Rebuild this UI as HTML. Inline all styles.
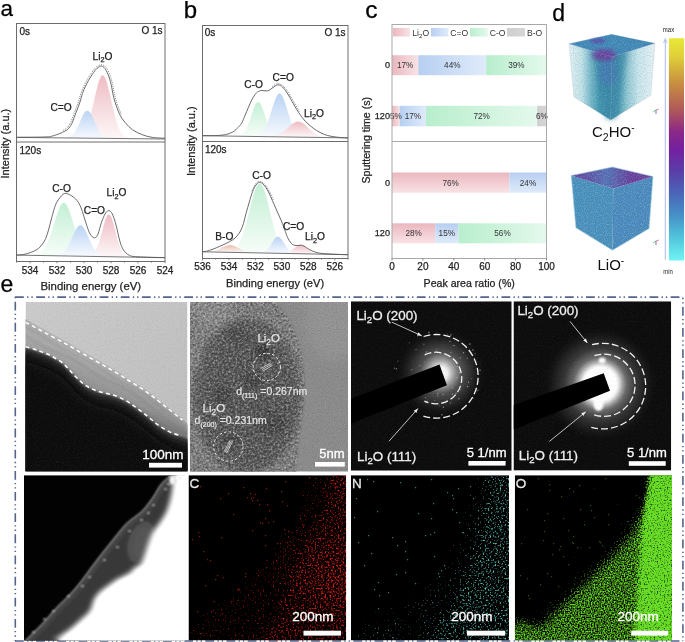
<!DOCTYPE html>
<html><head><meta charset="utf-8"><style>
html,body{margin:0;padding:0;background:#fff;}
body{width:685px;height:642px;overflow:hidden;position:relative;font-family:"Liberation Sans", sans-serif;}
body>svg{position:absolute;left:0;top:0;will-change:transform;}
</style></head><body>
<svg class="tw" width="685" height="642" viewBox="0 0 685 642" font-family='"Liberation Sans", sans-serif'>
<defs><linearGradient id="g1" gradientUnits="userSpaceOnUse" x1="0" y1="75.3" x2="0" y2="138.3"><stop offset="0" stop-color="#eebcc3"/><stop offset="1" stop-color="#fdf7f8"/></linearGradient><linearGradient id="g2" gradientUnits="userSpaceOnUse" x1="0" y1="110.7" x2="0" y2="138.2"><stop offset="0" stop-color="#bad3f4"/><stop offset="1" stop-color="#f7fafe"/></linearGradient><linearGradient id="g3" gradientUnits="userSpaceOnUse" x1="0" y1="202.6" x2="0" y2="255.9"><stop offset="0" stop-color="#c3efd4"/><stop offset="1" stop-color="#f7fdf9"/></linearGradient><linearGradient id="g4" gradientUnits="userSpaceOnUse" x1="0" y1="214.4" x2="0" y2="256.7"><stop offset="0" stop-color="#eebcc3"/><stop offset="1" stop-color="#fdf7f8"/></linearGradient><linearGradient id="g5" gradientUnits="userSpaceOnUse" x1="0" y1="225.2" x2="0" y2="256.2"><stop offset="0" stop-color="#bad3f4"/><stop offset="1" stop-color="#f7fafe"/></linearGradient><linearGradient id="g6" gradientUnits="userSpaceOnUse" x1="0" y1="101.9" x2="0" y2="136.5"><stop offset="0" stop-color="#c3efd4"/><stop offset="1" stop-color="#f7fdf9"/></linearGradient><linearGradient id="g7" gradientUnits="userSpaceOnUse" x1="0" y1="93.6" x2="0" y2="136.9"><stop offset="0" stop-color="#bad3f4"/><stop offset="1" stop-color="#f7fafe"/></linearGradient><linearGradient id="g8" gradientUnits="userSpaceOnUse" x1="0" y1="121.5" x2="0" y2="137.1"><stop offset="0" stop-color="#eebcc3"/><stop offset="1" stop-color="#fdf7f8"/></linearGradient><linearGradient id="g9" gradientUnits="userSpaceOnUse" x1="0" y1="183.4" x2="0" y2="252.9"><stop offset="0" stop-color="#c3efd4"/><stop offset="1" stop-color="#f7fdf9"/></linearGradient><linearGradient id="g10" gradientUnits="userSpaceOnUse" x1="0" y1="245.1" x2="0" y2="253.8"><stop offset="0" stop-color="#eebcc3"/><stop offset="1" stop-color="#fdf7f8"/></linearGradient><linearGradient id="g11" gradientUnits="userSpaceOnUse" x1="0" y1="245.1" x2="0" y2="252.4"><stop offset="0" stop-color="#e8bfae"/><stop offset="1" stop-color="#fdf8f6"/></linearGradient><linearGradient id="g12" gradientUnits="userSpaceOnUse" x1="0" y1="236.8" x2="0" y2="253.3"><stop offset="0" stop-color="#bad3f4"/><stop offset="1" stop-color="#f7fafe"/></linearGradient><linearGradient id="g13" gradientUnits="userSpaceOnUse" x1="392" y1="0" x2="418.3" y2="0"><stop offset="0" stop-color="#eab7be"/><stop offset="1" stop-color="#f8e3e6"/></linearGradient><linearGradient id="g14" gradientUnits="userSpaceOnUse" x1="418.3" y1="0" x2="486.2" y2="0"><stop offset="0" stop-color="#b7cff2"/><stop offset="1" stop-color="#e0ebfa"/></linearGradient><linearGradient id="g15" gradientUnits="userSpaceOnUse" x1="486.2" y1="0" x2="546.5" y2="0"><stop offset="0" stop-color="#b8eecd"/><stop offset="1" stop-color="#e4f9ec"/></linearGradient><linearGradient id="g16" gradientUnits="userSpaceOnUse" x1="392" y1="0" x2="399.7" y2="0"><stop offset="0" stop-color="#eab7be"/><stop offset="1" stop-color="#f8e3e6"/></linearGradient><linearGradient id="g17" gradientUnits="userSpaceOnUse" x1="399.7" y1="0" x2="426" y2="0"><stop offset="0" stop-color="#b7cff2"/><stop offset="1" stop-color="#e0ebfa"/></linearGradient><linearGradient id="g18" gradientUnits="userSpaceOnUse" x1="426" y1="0" x2="537.2" y2="0"><stop offset="0" stop-color="#b8eecd"/><stop offset="1" stop-color="#e4f9ec"/></linearGradient><linearGradient id="g19" gradientUnits="userSpaceOnUse" x1="537.2" y1="0" x2="546.5" y2="0"><stop offset="0" stop-color="#cfcfcf"/><stop offset="1" stop-color="#d6d6d6"/></linearGradient><linearGradient id="g20" gradientUnits="userSpaceOnUse" x1="0" y1="172.5" x2="0" y2="192.8"><stop offset="0" stop-color="#eab7be"/><stop offset="1" stop-color="#f8e3e6"/></linearGradient><linearGradient id="g21" gradientUnits="userSpaceOnUse" x1="0" y1="172.5" x2="0" y2="192.8"><stop offset="0" stop-color="#b7cff2"/><stop offset="1" stop-color="#e0ebfa"/></linearGradient><linearGradient id="g22" gradientUnits="userSpaceOnUse" x1="0" y1="223.3" x2="0" y2="243.3"><stop offset="0" stop-color="#eab7be"/><stop offset="1" stop-color="#f8e3e6"/></linearGradient><linearGradient id="g23" gradientUnits="userSpaceOnUse" x1="0" y1="223.3" x2="0" y2="243.3"><stop offset="0" stop-color="#b7cff2"/><stop offset="1" stop-color="#e0ebfa"/></linearGradient><linearGradient id="g24" gradientUnits="userSpaceOnUse" x1="458.4" y1="0" x2="546.5" y2="0"><stop offset="0" stop-color="#b8eecd"/><stop offset="1" stop-color="#e4f9ec"/></linearGradient><linearGradient id="g25" gradientUnits="userSpaceOnUse" x1="392.8" y1="0" x2="410" y2="0"><stop offset="0" stop-color="#eab7be"/><stop offset="1" stop-color="#f8e3e6"/></linearGradient><linearGradient id="g26" gradientUnits="userSpaceOnUse" x1="431" y1="0" x2="448.3" y2="0"><stop offset="0" stop-color="#b7cff2"/><stop offset="1" stop-color="#e0ebfa"/></linearGradient><linearGradient id="g27" gradientUnits="userSpaceOnUse" x1="470" y1="0" x2="487.7" y2="0"><stop offset="0" stop-color="#b8eecd"/><stop offset="1" stop-color="#e4f9ec"/></linearGradient><linearGradient id="g28" gradientUnits="userSpaceOnUse" x1="507" y1="0" x2="525" y2="0"><stop offset="0" stop-color="#cfcfcf"/><stop offset="1" stop-color="#d6d6d6"/></linearGradient><filter id="grain" x="0" y="0" width="1" height="1" color-interpolation-filters="sRGB">
<feTurbulence type="fractalNoise" baseFrequency="0.75" numOctaves="2" seed="7" result="n"/>
<feColorMatrix in="n" type="matrix" values="0 0 0 0 1 0 0 0 0 1 0 0 0 0 1 3 0 0 0 -1.5" result="w"/>
<feColorMatrix in="n" type="matrix" values="0 0 0 0 0 0 0 0 0 0 0 0 0 0 0 -3 0 0 0 1.5" result="k"/>
<feMerge><feMergeNode in="w"/><feMergeNode in="k"/></feMerge>
</filter><filter id="grain2" x="0" y="0" width="1" height="1" color-interpolation-filters="sRGB">
<feTurbulence type="fractalNoise" baseFrequency="0.45" numOctaves="3" seed="11" result="n"/>
<feColorMatrix in="n" type="matrix" values="0 0 0 0 1 0 0 0 0 1 0 0 0 0 1 3 0 0 0 -1.5" result="w"/>
<feColorMatrix in="n" type="matrix" values="0 0 0 0 0 0 0 0 0 0 0 0 0 0 0 -3 0 0 0 1.5" result="k"/>
<feMerge><feMergeNode in="w"/><feMergeNode in="k"/></feMerge>
</filter><filter id="bl1" x="-20%" y="-20%" width="140%" height="140%"><feGaussianBlur stdDeviation="1"/></filter><filter id="bl2" x="-20%" y="-20%" width="140%" height="140%"><feGaussianBlur stdDeviation="2.5"/></filter><filter id="bl3" x="-20%" y="-20%" width="140%" height="140%"><feGaussianBlur stdDeviation="5"/></filter><linearGradient id="t1bg" x1="0" y1="0" x2="1" y2="1"><stop offset="0" stop-color="#cbcbcb"/><stop offset="1" stop-color="#bdbdbd"/></linearGradient><linearGradient id="t1band" gradientUnits="userSpaceOnUse" x1="100" y1="365" x2="88" y2="395"><stop offset="0" stop-color="#aaaaaa"/><stop offset="0.7" stop-color="#939393"/><stop offset="1" stop-color="#7a7a7a"/></linearGradient><linearGradient id="t1dark" gradientUnits="userSpaceOnUse" x1="50" y1="470" x2="160" y2="400"><stop offset="0" stop-color="#0c0c0c"/><stop offset="0.5" stop-color="#121212"/><stop offset="1" stop-color="#1e1e1e"/></linearGradient><clipPath id="t2clip"><path d="M270,298C270.8,298.7 271.8,298.7 274.8,302C277.8,305.3 284,311.3 288,317.9C292,324.5 296,333.3 298.6,341.7C301.2,350.1 302.9,359.4 303.9,368.2C304.9,377 304.9,385.9 304.5,394.7C304.1,403.5 302.3,412.8 301.3,421.2C300.3,429.6 299.5,436.5 298.6,445C297.7,453.5 296.4,466.8 296,472C295.6,477.2 296,475.3 296,476 L185,476 L185,298 Z"/></clipPath><radialGradient id="glow3"><stop offset="0" stop-color="#fff"/><stop offset="0.14" stop-color="#f0f0f0"/><stop offset="0.28" stop-color="#a0a0a0"/><stop offset="0.45" stop-color="#505050"/><stop offset="0.7" stop-color="#262626"/><stop offset="1" stop-color="#0d0d0d" stop-opacity="0"/></radialGradient><radialGradient id="glow4"><stop offset="0" stop-color="#fff"/><stop offset="0.28" stop-color="#fcfcfc"/><stop offset="0.36" stop-color="#b8b8b8"/><stop offset="0.46" stop-color="#686868"/><stop offset="0.62" stop-color="#363636"/><stop offset="0.8" stop-color="#1c1c1c"/><stop offset="1" stop-color="#0d0d0d" stop-opacity="0"/></radialGradient><filter id="bl6" x="-30%" y="-30%" width="160%" height="160%"><feGaussianBlur stdDeviation="6"/></filter><filter id="bl9" x="-30%" y="-30%" width="160%" height="160%"><feGaussianBlur stdDeviation="9"/></filter><filter id="edsC" x="0" y="0" width="1" height="1" color-interpolation-filters="sRGB">
<feTurbulence type="fractalNoise" baseFrequency="0.6" numOctaves="1" seed="4" result="n"/>
<feColorMatrix in="n" type="matrix" values="1 0 0 0 0 1 0 0 0 0 1 0 0 0 0 0 0 0 0 1" result="n2"/>
<feComposite in="SourceGraphic" in2="n2" operator="arithmetic" k1="0" k2="1" k3="1" k4="-1.0" result="s"/>
<feColorMatrix in="s" type="matrix" values="0 0 0 0 0.843 0 0 0 0 0.118 0 0 0 0 0.063 3.8 0 0 0 0"/>
<feGaussianBlur stdDeviation="0.35"/>
</filter><radialGradient id="dCr" gradientUnits="userSpaceOnUse" cx="340" cy="580" r="80"><stop offset="0" stop-color="#8e8e8e"/><stop offset="0.5" stop-color="#808080"/><stop offset="1" stop-color="#6e6e6e" stop-opacity="0"/></radialGradient><filter id="edsN" x="0" y="0" width="1" height="1" color-interpolation-filters="sRGB">
<feTurbulence type="fractalNoise" baseFrequency="0.6" numOctaves="1" seed="9" result="n"/>
<feColorMatrix in="n" type="matrix" values="1 0 0 0 0 1 0 0 0 0 1 0 0 0 0 0 0 0 0 1" result="n2"/>
<feComposite in="SourceGraphic" in2="n2" operator="arithmetic" k1="0" k2="1" k3="1" k4="-1.0" result="s"/>
<feColorMatrix in="s" type="matrix" values="0 0 0 0 0.373 0 0 0 0 0.843 0 0 0 0 0.804 3.9 0 0 0 0"/>
<feGaussianBlur stdDeviation="0.35"/>
</filter><filter id="edsO" x="0" y="0" width="1" height="1" color-interpolation-filters="sRGB">
<feTurbulence type="fractalNoise" baseFrequency="0.7" numOctaves="1" seed="12" result="n"/>
<feColorMatrix in="n" type="matrix" values="1 0 0 0 0 1 0 0 0 0 1 0 0 0 0 0 0 0 0 1" result="n2"/>
<feComposite in="SourceGraphic" in2="n2" operator="arithmetic" k1="0" k2="1" k3="1" k4="-0.95" result="s"/>
<feColorMatrix in="s" type="matrix" values="0 0 0 0 0.412 0 0 0 0 0.871 0 0 0 0 0.149 2.6 0 0 0 0"/>
<feGaussianBlur stdDeviation="0.35"/>
</filter><filter id="spk" x="0" y="0" width="1" height="1" color-interpolation-filters="sRGB">
<feTurbulence type="fractalNoise" baseFrequency="0.9" numOctaves="1" seed="21" result="n"/>
<feColorMatrix in="n" type="matrix" values="0 0 0 0 1 0 0 0 0 1 0 0 0 0 1 2.4 0 0 0 -1.2" result="w"/>
<feColorMatrix in="n" type="matrix" values="0 0 0 0 0.15 0 0 0 0 0.45 0 0 0 0 0.58 -2.4 0 0 0 1.2" result="k"/>
<feMerge><feMergeNode in="w"/><feMergeNode in="k"/></feMerge>
</filter><linearGradient id="c1L" gradientUnits="userSpaceOnUse" x1="569" y1="0" x2="612" y2="0"><stop offset="0" stop-color="#e2f1f4"/><stop offset="0.3" stop-color="#c0e0e6"/><stop offset="0.52" stop-color="#72b4c6"/><stop offset="0.72" stop-color="#4094ac"/><stop offset="1" stop-color="#3a8ca8"/></linearGradient><linearGradient id="c1R" gradientUnits="userSpaceOnUse" x1="611" y1="0" x2="655" y2="0"><stop offset="0" stop-color="#3a8ca8"/><stop offset="0.15" stop-color="#4898b0"/><stop offset="0.38" stop-color="#92c7d3"/><stop offset="0.62" stop-color="#c8e4ea"/><stop offset="1" stop-color="#e6f3f5"/></linearGradient><clipPath id="c1clip"><polygon points="569,43.8 611.5,34.3 654.9,43.3 650.8,95.3 610.7,119.9 573.9,97"/></clipPath><linearGradient id="c2T" gradientUnits="userSpaceOnUse" x1="571" y1="0" x2="653" y2="0"><stop offset="0" stop-color="#6a3d9c"/><stop offset="0.45" stop-color="#5670b4"/><stop offset="0.75" stop-color="#6a3d9a"/><stop offset="1" stop-color="#6a4a9e"/></linearGradient><clipPath id="c2clip"><polygon points="571.2,175.6 612.5,167 653,176.4 649.1,228.5 612.5,250.3 575.9,227.8"/></clipPath><linearGradient id="cbar" x1="0" y1="0" x2="0" y2="1"><stop offset="0" stop-color="#e8e838"/><stop offset="0.08" stop-color="#e0d038"/><stop offset="0.2" stop-color="#c89040"/><stop offset="0.32" stop-color="#b05a58"/><stop offset="0.42" stop-color="#8c2888"/><stop offset="0.5" stop-color="#7420a0"/><stop offset="0.6" stop-color="#5a3ea8"/><stop offset="0.7" stop-color="#4a66b8"/><stop offset="0.8" stop-color="#4692c8"/><stop offset="0.9" stop-color="#52c6dc"/><stop offset="1" stop-color="#70f4f4"/></linearGradient></defs>
<rect x="16.5" y="23.5" width="148.5" height="238" fill="none" stroke="#6c6c6c" stroke-width="1"/><line x1="16.5" y1="142" x2="165" y2="142" stroke="#6c6c6c" stroke-width="1"/><line x1="165" y1="261.5" x2="165" y2="263.3" stroke="#6c6c6c" stroke-width="0.8"/><line x1="151.5" y1="261.5" x2="151.5" y2="262.7" stroke="#6c6c6c" stroke-width="0.8"/><line x1="138" y1="261.5" x2="138" y2="263.3" stroke="#6c6c6c" stroke-width="0.8"/><line x1="124.5" y1="261.5" x2="124.5" y2="262.7" stroke="#6c6c6c" stroke-width="0.8"/><line x1="111" y1="261.5" x2="111" y2="263.3" stroke="#6c6c6c" stroke-width="0.8"/><line x1="97.5" y1="261.5" x2="97.5" y2="262.7" stroke="#6c6c6c" stroke-width="0.8"/><line x1="84" y1="261.5" x2="84" y2="263.3" stroke="#6c6c6c" stroke-width="0.8"/><line x1="70.5" y1="261.5" x2="70.5" y2="262.7" stroke="#6c6c6c" stroke-width="0.8"/><line x1="57" y1="261.5" x2="57" y2="263.3" stroke="#6c6c6c" stroke-width="0.8"/><line x1="43.5" y1="261.5" x2="43.5" y2="262.7" stroke="#6c6c6c" stroke-width="0.8"/><line x1="30" y1="261.5" x2="30" y2="263.3" stroke="#6c6c6c" stroke-width="0.8"/><line x1="16.5" y1="261.5" x2="16.5" y2="262.7" stroke="#6c6c6c" stroke-width="0.8"/><text x="165" y="273.7" font-size="10" fill="#222" stroke="#222" stroke-width="0.25" text-anchor="middle" >524</text><text x="138" y="273.7" font-size="10" fill="#222" stroke="#222" stroke-width="0.25" text-anchor="middle" >526</text><text x="111" y="273.7" font-size="10" fill="#222" stroke="#222" stroke-width="0.25" text-anchor="middle" >528</text><text x="84" y="273.7" font-size="10" fill="#222" stroke="#222" stroke-width="0.25" text-anchor="middle" >530</text><text x="57" y="273.7" font-size="10" fill="#222" stroke="#222" stroke-width="0.25" text-anchor="middle" >532</text><text x="30" y="273.7" font-size="10" fill="#222" stroke="#222" stroke-width="0.25" text-anchor="middle" >534</text><text x="90.8" y="290.3" font-size="11.4" fill="#222" stroke="#222" stroke-width="0.25" text-anchor="middle" >Binding energy (eV)</text><text x="0" y="0" font-size="11" fill="#222" stroke="#222" stroke-width="0.25" text-anchor="middle" transform="translate(8.9,143.6) rotate(-90)">Intensity (a.u.)</text><text x="19.5" y="34.8" font-size="10" fill="#222" stroke="#222" stroke-width="0.25" text-anchor="start" >0s</text><text x="162.5" y="34.3" font-size="10" fill="#222" stroke="#222" stroke-width="0.25" text-anchor="end" >O 1s</text><text x="19.5" y="153.7" font-size="10" fill="#222" stroke="#222" stroke-width="0.25" text-anchor="start" >120s</text><path d="M75.5,137.7 L76.9,137.4 L78.2,137.1 L79.6,136.5 L80.9,135.7 L82.3,134.6 L83.7,133 L85,130.9 L86.4,128.2 L87.7,124.8 L89.1,120.7 L90.5,115.9 L91.8,110.4 L93.2,104.6 L94.5,98.5 L95.9,92.5 L97.3,86.9 L98.6,82.1 L100,78.4 L101.3,76.1 L102.7,75.3 L104.1,76.1 L105.4,78.5 L106.8,82.2 L108.1,87.1 L109.5,92.7 L110.9,98.7 L112.2,104.8 L113.6,110.7 L114.9,116.1 L116.3,121 L117.7,125.1 L119,128.5 L120.4,131.3 L121.7,133.4 L123.1,135 L124.5,136.2 L125.8,137 L127.2,137.6 L128.5,138 L129.9,138.2Z" fill="url(#g1)"/><path d="M64.3,137.8 L65.4,137.7 L66.6,137.5 L67.7,137.3 L68.9,136.9 L70,136.4 L71.2,135.8 L72.3,134.8 L73.5,133.7 L74.6,132.2 L75.8,130.4 L76.9,128.3 L78.1,125.9 L79.2,123.4 L80.4,120.7 L81.5,118.1 L82.7,115.7 L83.8,113.6 L85,112 L86.1,111 L87.3,110.7 L88.5,111 L89.6,112.1 L90.8,113.7 L91.9,115.8 L93.1,118.3 L94.2,120.9 L95.4,123.6 L96.5,126.1 L97.7,128.5 L98.8,130.6 L100,132.5 L101.1,134 L102.3,135.2 L103.4,136.1 L104.6,136.8 L105.7,137.3 L106.9,137.7 L108,138 L109.2,138.1 L110.3,138.2Z" fill="url(#g2)"/><line x1="16.5" y1="137.4" x2="165" y2="139" stroke="#666" stroke-width="0.9"/><path d="M63.3,130.2C63.8,129.9 65.5,129.3 66.4,128.5C67.3,127.8 68,126.8 68.8,125.7C69.5,124.5 70,124 71,121.7C72,119.4 73.5,115.1 74.7,111.8C75.9,108.5 77.4,104.9 78.5,101.8C79.5,98.7 79.9,96 81,93.1C82,90.2 83.3,87.2 84.8,84.2C86.2,81.3 88.1,78 89.8,75.4C91.5,72.7 93.4,70 95,68.3C96.5,66.6 97.8,65.8 99.2,65.2C100.5,64.7 101.9,64.5 103.2,65.1C104.4,65.6 105.6,66.9 106.8,68.7C107.9,70.5 109.1,73 110.1,75.7C111.1,78.3 111.8,81 112.7,84.6C113.5,88.1 114.2,93.3 115.2,97C116.1,100.7 117.2,104 118.2,106.8C119.2,109.6 120.7,112.9 121.2,114.1" fill="none" stroke="#666" stroke-width="0.9" stroke-dasharray="0.9 1.1"/><path d="M16.5,137.3C21.2,137.2 39,137.2 45,137C51,136.8 50,136.6 52.5,136C55,135.4 58,134.2 59.9,133.5C61.8,132.8 62.8,132.1 64,131.5C65.2,130.9 66.4,130.5 67.4,129.7C68.4,128.9 69.2,127.7 70,126.5C70.8,125.3 71.4,124.7 72.4,122.3C73.4,119.9 74.8,115.6 76.1,112.3C77.3,109 78.9,105.4 79.9,102.3C81,99.2 81.4,96.5 82.4,93.6C83.4,90.7 84.6,87.8 86.1,84.9C87.5,82 89.4,78.8 91.1,76.2C92.8,73.6 94.6,70.9 96.1,69.3C97.5,67.7 98.7,67.1 99.8,66.6C100.9,66.1 101.5,65.9 102.5,66.4C103.5,66.9 104.5,67.9 105.5,69.5C106.5,71.1 107.8,73.6 108.7,76.2C109.7,78.8 110.4,81.4 111.2,84.9C112,88.4 112.8,93.7 113.7,97.4C114.6,101.1 115.8,104.4 116.8,107.3C117.8,110.2 118.6,112.3 119.9,114.8C121.2,117.3 122.8,119.8 124.9,122.3C127,124.8 129.5,127.6 132.4,129.7C135.3,131.8 139,133.4 142.3,134.7C145.6,136 148.5,136.8 152.3,137.4C156.1,138 162.9,138.1 165,138.2" fill="none" stroke="#5a5a5a" stroke-width="0.9"/><text x="61" y="110.5" font-size="10.2" fill="#222" stroke="#222" stroke-width="0.25" text-anchor="middle" >C=O</text><text x="92.6" y="59.6" font-size="10.2" fill="#222" stroke="#222" stroke-width="0.25" text-anchor="start">Li<tspan font-size="7.3" dy="2.5">2</tspan><tspan dy="-2.5">O</tspan></text><path d="M33.2,255.1 L34.7,254.9 L36.3,254.6 L37.8,254.2 L39.3,253.5 L40.9,252.5 L42.4,251.2 L43.9,249.5 L45.5,247.2 L47,244.3 L48.5,240.8 L50.1,236.8 L51.6,232.2 L53.1,227.3 L54.7,222.1 L56.2,217.1 L57.8,212.4 L59.3,208.3 L60.8,205.2 L62.4,203.3 L63.9,202.6 L65.4,203.3 L67,205.3 L68.5,208.5 L70,212.6 L71.6,217.4 L73.1,222.5 L74.7,227.7 L76.2,232.7 L77.7,237.3 L79.3,241.4 L80.8,244.9 L82.3,247.8 L83.9,250.2 L85.4,252 L86.9,253.3 L88.5,254.3 L90,255.1 L91.5,255.6 L93.1,255.9 L94.6,256.1Z" fill="url(#g3)"/><path d="M87.7,256.1 L88.7,255.9 L89.8,255.7 L90.8,255.4 L91.9,254.8 L93,254.1 L94,253 L95.1,251.6 L96.1,249.8 L97.2,247.5 L98.2,244.8 L99.3,241.6 L100.4,237.9 L101.4,234 L102.5,229.9 L103.5,225.9 L104.6,222.2 L105.6,219 L106.7,216.5 L107.7,214.9 L108.8,214.4 L109.9,215 L110.9,216.6 L112,219.1 L113,222.3 L114.1,226.1 L115.1,230.1 L116.2,234.3 L117.2,238.2 L118.3,241.9 L119.4,245.1 L120.4,247.9 L121.5,250.2 L122.5,252.1 L123.6,253.5 L124.6,254.6 L125.7,255.4 L126.8,256 L127.8,256.4 L128.9,256.7 L129.9,256.8Z" fill="url(#g4)"/><path d="M54.5,255.6 L55.8,255.5 L57.1,255.3 L58.4,255.1 L59.7,254.7 L61,254.1 L62.3,253.4 L63.6,252.4 L64.8,251 L66.1,249.4 L67.4,247.4 L68.7,245 L70,242.4 L71.3,239.5 L72.6,236.5 L73.9,233.6 L75.2,230.9 L76.5,228.5 L77.8,226.7 L79.1,225.6 L80.4,225.2 L81.7,225.6 L83,226.8 L84.3,228.7 L85.6,231.1 L86.9,233.8 L88.2,236.8 L89.5,239.8 L90.8,242.7 L92.1,245.4 L93.4,247.8 L94.7,249.9 L96,251.6 L97.2,253 L98.5,254 L99.8,254.8 L101.1,255.4 L102.4,255.8 L103.7,256.1 L105,256.3 L106.3,256.5Z" fill="url(#g5)"/><line x1="16.5" y1="255.1" x2="165" y2="257.7" stroke="#666" stroke-width="0.9"/><path d="M16.5,255.1C18.1,254.9 22.6,254.9 26,254C29.4,253.1 34.2,251.2 36.9,249.6C39.6,248 40.5,246.3 42,244.5C43.5,242.7 44.6,240.9 45.7,238.5C46.8,236.1 47.6,233.1 48.5,230C49.4,226.9 50.2,223.4 51.1,220C52,216.6 53.1,212.4 54,209.5C54.9,206.6 55.6,204.5 56.6,202.5C57.6,200.5 58.9,198.9 60,197.5C61.1,196.1 62.1,195 63,194.3C63.9,193.6 64.5,193.4 65.4,193.4C66.3,193.4 67.4,193.8 68.5,194.2C69.6,194.6 70.7,195.2 71.9,196C73.1,196.8 74.4,197.7 75.5,198.8C76.6,199.9 77.5,200.8 78.5,202.5C79.5,204.2 80.4,206.1 81.5,209C82.6,211.9 83.8,216.4 85,220C86.2,223.6 87.4,227.8 88.5,230.5C89.6,233.2 90.4,234.8 91.5,236C92.6,237.2 93.8,238.1 94.9,237.8C96,237.5 96.9,236.6 98,234C99.1,231.4 100.3,225.6 101.5,222.3C102.7,219 104,215.9 105,214C106,212.1 106.8,211.5 107.5,211C108.2,210.5 108.5,210.6 109.2,210.8C109.9,211.1 110.6,211 111.5,212.5C112.4,214 113.6,216.9 114.6,220C115.6,223.1 116.6,227.3 117.5,231C118.4,234.7 119.1,238.8 120.1,242C121.1,245.2 122,247.8 123.5,250C125,252.2 126.6,254 128.9,255.1C131.2,256.2 131.6,256.4 137.6,256.8C143.6,257.2 160.4,257.5 165,257.6" fill="none" stroke="#5a5a5a" stroke-width="0.9"/><text x="61.5" y="191.6" font-size="10.2" fill="#222" stroke="#222" stroke-width="0.25" text-anchor="middle" >C-O</text><text x="94.4" y="213.5" font-size="10.2" fill="#222" stroke="#222" stroke-width="0.25" text-anchor="middle" >C=O</text><text x="106.5" y="196.3" font-size="10.2" fill="#222" stroke="#222" stroke-width="0.25" text-anchor="start">Li<tspan font-size="7.3" dy="2.5">2</tspan><tspan dy="-2.5">O</tspan></text><rect x="202.5" y="25.5" width="145.5" height="233" fill="none" stroke="#6c6c6c" stroke-width="1"/><line x1="202.5" y1="141.5" x2="348" y2="141.5" stroke="#6c6c6c" stroke-width="1"/><line x1="348" y1="258.5" x2="348" y2="259.7" stroke="#6c6c6c" stroke-width="0.8"/><line x1="334.8" y1="258.5" x2="334.8" y2="260.3" stroke="#6c6c6c" stroke-width="0.8"/><line x1="321.5" y1="258.5" x2="321.5" y2="259.7" stroke="#6c6c6c" stroke-width="0.8"/><line x1="308.3" y1="258.5" x2="308.3" y2="260.3" stroke="#6c6c6c" stroke-width="0.8"/><line x1="295.1" y1="258.5" x2="295.1" y2="259.7" stroke="#6c6c6c" stroke-width="0.8"/><line x1="281.9" y1="258.5" x2="281.9" y2="260.3" stroke="#6c6c6c" stroke-width="0.8"/><line x1="268.6" y1="258.5" x2="268.6" y2="259.7" stroke="#6c6c6c" stroke-width="0.8"/><line x1="255.4" y1="258.5" x2="255.4" y2="260.3" stroke="#6c6c6c" stroke-width="0.8"/><line x1="242.2" y1="258.5" x2="242.2" y2="259.7" stroke="#6c6c6c" stroke-width="0.8"/><line x1="229" y1="258.5" x2="229" y2="260.3" stroke="#6c6c6c" stroke-width="0.8"/><line x1="215.7" y1="258.5" x2="215.7" y2="259.7" stroke="#6c6c6c" stroke-width="0.8"/><line x1="202.5" y1="258.5" x2="202.5" y2="260.3" stroke="#6c6c6c" stroke-width="0.8"/><text x="334.8" y="270.1" font-size="10" fill="#222" stroke="#222" stroke-width="0.25" text-anchor="middle" >526</text><text x="308.3" y="270.1" font-size="10" fill="#222" stroke="#222" stroke-width="0.25" text-anchor="middle" >528</text><text x="281.9" y="270.1" font-size="10" fill="#222" stroke="#222" stroke-width="0.25" text-anchor="middle" >530</text><text x="255.4" y="270.1" font-size="10" fill="#222" stroke="#222" stroke-width="0.25" text-anchor="middle" >532</text><text x="229" y="270.1" font-size="10" fill="#222" stroke="#222" stroke-width="0.25" text-anchor="middle" >534</text><text x="202.5" y="270.1" font-size="10" fill="#222" stroke="#222" stroke-width="0.25" text-anchor="middle" >536</text><text x="275.1" y="286.6" font-size="11.1" fill="#222" stroke="#222" stroke-width="0.25" text-anchor="middle" >Binding energy (eV)</text><text x="0" y="0" font-size="11" fill="#222" stroke="#222" stroke-width="0.25" text-anchor="middle" transform="translate(195.2,141.2) rotate(-90)">Intensity (a.u.)</text><text x="204.7" y="35.8" font-size="10" fill="#222" stroke="#222" stroke-width="0.25" text-anchor="start" >0s</text><text x="345.5" y="35.8" font-size="10" fill="#222" stroke="#222" stroke-width="0.25" text-anchor="end" >O 1s</text><text x="204.9" y="152.5" font-size="10" fill="#222" stroke="#222" stroke-width="0.25" text-anchor="start" >120s</text><path d="M236.1,136 L237.2,135.9 L238.3,135.7 L239.4,135.4 L240.5,135 L241.6,134.3 L242.7,133.5 L243.8,132.3 L245,130.9 L246.1,129 L247.2,126.8 L248.3,124.1 L249.4,121.2 L250.5,117.9 L251.6,114.6 L252.7,111.3 L253.8,108.3 L254.9,105.7 L256,103.6 L257.1,102.4 L258.2,101.9 L259.3,102.4 L260.4,103.7 L261.5,105.8 L262.6,108.4 L263.7,111.5 L264.8,114.8 L265.9,118.2 L267,121.4 L268.1,124.4 L269.2,127.1 L270.3,129.4 L271.4,131.3 L272.6,132.8 L273.7,134 L274.8,134.9 L275.9,135.5 L277,136 L278.1,136.3 L279.2,136.5 L280.3,136.7Z" fill="url(#g6)"/><path d="M254,136.2 L255.3,136.1 L256.6,135.8 L257.8,135.5 L259.1,134.9 L260.4,134.1 L261.7,133.1 L263,131.6 L264.2,129.8 L265.5,127.5 L266.8,124.6 L268.1,121.3 L269.4,117.6 L270.6,113.6 L271.9,109.4 L273.2,105.3 L274.5,101.5 L275.8,98.2 L277,95.7 L278.3,94.1 L279.6,93.6 L280.9,94.1 L282.2,95.8 L283.4,98.3 L284.7,101.7 L286,105.5 L287.3,109.7 L288.6,113.9 L289.8,117.9 L291.1,121.7 L292.4,125 L293.7,127.9 L295,130.2 L296.2,132.1 L297.5,133.6 L298.8,134.7 L300.1,135.5 L301.4,136.1 L302.6,136.5 L303.9,136.8 L305.2,137Z" fill="url(#g7)"/><path d="M266.3,136.6 L267.9,136.5 L269.5,136.5 L271.1,136.4 L272.7,136.2 L274.3,135.9 L275.9,135.5 L277.5,135 L279.1,134.4 L280.7,133.6 L282.3,132.6 L283.9,131.4 L285.5,130.1 L287.1,128.6 L288.7,127.2 L290.3,125.7 L291.9,124.3 L293.5,123.2 L295.1,122.3 L296.7,121.7 L298.3,121.5 L299.9,121.8 L301.5,122.4 L303.1,123.3 L304.7,124.5 L306.3,125.9 L307.9,127.5 L309.5,129 L311.1,130.5 L312.7,131.8 L314.3,133.1 L315.9,134.1 L317.5,135 L319.1,135.7 L320.7,136.2 L322.3,136.6 L323.9,136.9 L325.5,137.2 L327.1,137.3 L328.7,137.5 L330.3,137.5Z" fill="url(#g8)"/><line x1="202.5" y1="135.7" x2="348" y2="137.9" stroke="#666" stroke-width="0.9"/><path d="M272.4,86.5C273.2,86 275.9,83.9 277.5,83.7C279.2,83.5 280.7,84.2 282.2,85.2C283.7,86.2 285,88 286.4,89.7C287.7,91.4 288.9,93.5 290,95.4C291.1,97.2 291.5,98 293,100.7C294.6,103.4 298.4,109.8 299.5,111.6" fill="none" stroke="#666" stroke-width="0.9" stroke-dasharray="0.9 1.1"/><path d="M202.5,135.7C205.7,135.6 216.8,135.8 221.9,135.2C227,134.6 230.1,133.3 232.8,132C235.5,130.7 236.5,129 238,127.5C239.5,126 240.4,125.2 241.6,123.2C242.8,121.2 243.9,118 245,115.5C246.1,113 247,110.6 248.2,107.9C249.4,105.2 250.7,101.9 252,99.5C253.3,97.1 254.6,95 255.8,93.6C257,92.2 258,91.7 259,91.2C260,90.7 260.8,90.5 262,90.5C263.2,90.5 264.8,90.9 266,90.9C267.2,90.9 267.8,91 269,90.4C270.2,89.8 271.6,88.4 273,87.5C274.4,86.6 276.3,85.1 277.7,84.9C279.1,84.7 280.2,85.3 281.5,86.2C282.8,87.1 284.1,88.8 285.4,90.4C286.6,92 287.9,94.2 289,96C290.1,97.8 290.4,98.6 292,101.3C293.6,104 296.3,109 298.5,112.3C300.7,115.6 302.5,118.3 305.1,121C307.7,123.7 310.6,126.4 313.9,128.7C317.2,131 321.1,133.2 324.8,134.6C328.5,136 331.9,136.4 335.8,137C339.7,137.6 346,137.8 348,137.9" fill="none" stroke="#5a5a5a" stroke-width="0.9"/><text x="253.5" y="88.2" font-size="10.2" fill="#222" stroke="#222" stroke-width="0.25" text-anchor="middle" >C-O</text><text x="283.2" y="80.7" font-size="10.2" fill="#222" stroke="#222" stroke-width="0.25" text-anchor="middle" >C=O</text><text x="304" y="116.6" font-size="10.2" fill="#222" stroke="#222" stroke-width="0.25" text-anchor="start">Li<tspan font-size="7.3" dy="2.5">2</tspan><tspan dy="-2.5">O</tspan></text><path d="M227,251.9 L228.6,251.6 L230.2,251.3 L231.9,250.7 L233.5,249.8 L235.1,248.5 L236.8,246.8 L238.4,244.5 L240,241.5 L241.6,237.8 L243.3,233.3 L244.9,228 L246.5,222 L248.2,215.6 L249.8,208.9 L251.4,202.3 L253.1,196.2 L254.7,190.9 L256.3,186.8 L258,184.3 L259.6,183.4 L261.2,184.4 L262.9,187 L264.5,191.1 L266.1,196.4 L267.8,202.6 L269.4,209.3 L271,216 L272.7,222.6 L274.3,228.6 L275.9,233.9 L277.6,238.5 L279.2,242.3 L280.8,245.4 L282.4,247.7 L284.1,249.5 L285.7,250.8 L287.3,251.8 L289,252.4 L290.6,252.9 L292.2,253.2Z" fill="url(#g9)"/><path d="M278.7,253.3 L279.8,253.3 L280.9,253.2 L282.1,253.2 L283.2,253.1 L284.3,252.9 L285.4,252.7 L286.5,252.5 L287.7,252.1 L288.8,251.7 L289.9,251.1 L291,250.5 L292.1,249.8 L293.3,249 L294.4,248.1 L295.5,247.3 L296.6,246.6 L297.7,245.9 L298.9,245.5 L300,245.2 L301.1,245.1 L302.2,245.2 L303.3,245.5 L304.5,246.1 L305.6,246.8 L306.7,247.6 L307.8,248.4 L308.9,249.3 L310.1,250.1 L311.2,250.9 L312.3,251.6 L313.4,252.2 L314.5,252.7 L315.7,253.1 L316.8,253.4 L317.9,253.6 L319,253.8 L320.1,253.9 L321.3,254 L322.4,254.1 L323.5,254.2Z" fill="url(#g10)"/><path d="M202.9,251.8 L204.3,251.8 L205.6,251.7 L207,251.7 L208.3,251.6 L209.7,251.5 L211.1,251.4 L212.4,251.2 L213.8,250.9 L215.1,250.5 L216.5,250 L217.9,249.5 L219.2,248.9 L220.6,248.3 L221.9,247.6 L223.3,246.9 L224.7,246.3 L226,245.8 L227.4,245.4 L228.7,245.1 L230.1,245.1 L231.5,245.2 L232.8,245.5 L234.2,245.9 L235.5,246.5 L236.9,247.2 L238.3,247.9 L239.6,248.6 L241,249.3 L242.3,250 L243.7,250.6 L245.1,251.1 L246.4,251.5 L247.8,251.9 L249.1,252.1 L250.5,252.3 L251.9,252.5 L253.2,252.6 L254.6,252.7 L255.9,252.8 L257.3,252.8Z" fill="url(#g11)"/><path d="M258.2,252.8 L259.2,252.8 L260.1,252.7 L261.1,252.6 L262.1,252.4 L263.1,252.1 L264.1,251.7 L265.1,251.2 L266.1,250.5 L267.1,249.6 L268.1,248.5 L269.1,247.3 L270.1,245.9 L271.1,244.4 L272,242.8 L273,241.2 L274,239.8 L275,238.5 L276,237.6 L277,237 L278,236.8 L279,237 L280,237.7 L281,238.7 L282,239.9 L283,241.4 L284,243 L284.9,244.6 L285.9,246.2 L286.9,247.6 L287.9,248.9 L288.9,250 L289.9,250.9 L290.9,251.7 L291.9,252.2 L292.9,252.7 L293.9,253 L294.9,253.2 L295.9,253.4 L296.8,253.5 L297.8,253.6Z" fill="url(#g12)"/><line x1="202.5" y1="251.8" x2="348" y2="254.7" stroke="#666" stroke-width="0.9"/><path d="M251.7,191.2C252.3,190.1 254,186.1 255.2,184.4C256.4,182.8 257.6,181.7 258.9,181.4C260.2,181.1 261.6,181.8 262.9,182.7C264.2,183.6 265.3,185 266.5,186.6C267.7,188.3 268.8,190.3 269.9,192.6C271,194.8 272.7,198.8 273.2,200" fill="none" stroke="#666" stroke-width="0.9" stroke-dasharray="0.9 1.1"/><path d="M202.5,251.7C203.2,251.6 204.8,251.6 206.6,251.2C208.3,250.8 210.8,250 213,249.2C215.2,248.4 217.5,247.2 219.7,246.3C221.9,245.4 223.8,244.6 226,243.5C228.2,242.4 231,241.1 232.8,239.8C234.6,238.6 235.7,237.5 237,236C238.3,234.5 239.4,233.1 240.5,231C241.6,228.9 242.6,226.4 243.5,223.5C244.4,220.6 245,217.1 246,213.5C247,209.9 248.2,205.7 249.3,202C250.4,198.3 251.5,194.4 252.6,191.6C253.7,188.8 254.9,186.5 256,185C257.1,183.5 258.1,182.7 259.1,182.4C260.2,182.2 261.2,182.7 262.3,183.5C263.4,184.3 264.6,185.6 265.7,187.2C266.8,188.8 267.9,190.8 269,193C270.1,195.2 271.1,197.6 272.3,200.4C273.6,203.2 275.1,206.7 276.5,210C277.9,213.3 279.7,216.8 281,220C282.3,223.2 283.4,226.1 284.5,229C285.6,231.9 286.5,235.3 287.6,237.6C288.7,239.9 289.9,241.7 291,243C292.1,244.3 293,244.8 294.2,245.2C295.4,245.6 296.7,245.5 298,245.5C299.3,245.5 300.6,244.9 301.8,245.2C303.1,245.4 304.2,246.3 305.5,247C306.8,247.7 307.4,248.6 309.5,249.6C311.6,250.6 314.8,252.2 318.2,252.9C321.6,253.6 325,253.7 330,254C335,254.3 345,254.6 348,254.7" fill="none" stroke="#5a5a5a" stroke-width="0.9"/><text x="261.5" y="178.5" font-size="10.2" fill="#222" stroke="#222" stroke-width="0.25" text-anchor="middle" >C-O</text><text x="293.6" y="230" font-size="10.2" fill="#222" stroke="#222" stroke-width="0.25" text-anchor="middle" >C=O</text><text x="224.3" y="239.8" font-size="10.2" fill="#222" stroke="#222" stroke-width="0.25" text-anchor="middle" >B-O</text><text x="305.1" y="240" font-size="10.2" fill="#222" stroke="#222" stroke-width="0.25" text-anchor="start">Li<tspan font-size="7.3" dy="2.5">2</tspan><tspan dy="-2.5">O</tspan></text><rect x="392" y="55.2" width="26.3" height="20" fill="url(#g13)"/><rect x="418.3" y="55.2" width="68" height="20" fill="url(#g14)"/><rect x="486.2" y="55.2" width="60.3" height="20" fill="url(#g15)"/><text x="405.1" y="68.2" font-size="8.2" fill="#333" stroke="#333" stroke-width="0" text-anchor="middle" >17%</text><text x="452.3" y="68.2" font-size="8.2" fill="#333" stroke="#333" stroke-width="0" text-anchor="middle" >44%</text><text x="516.4" y="68.2" font-size="8.2" fill="#333" stroke="#333" stroke-width="0" text-anchor="middle" >39%</text><rect x="392" y="105.8" width="7.7" height="20.5" fill="url(#g16)"/><rect x="399.7" y="105.8" width="26.3" height="20.5" fill="url(#g17)"/><rect x="426" y="105.8" width="111.2" height="20.5" fill="url(#g18)"/><rect x="537.2" y="105.8" width="9.3" height="20.5" fill="url(#g19)"/><text x="395.9" y="119" font-size="8.2" fill="#333" stroke="#333" stroke-width="0" text-anchor="middle" >5%</text><text x="412.9" y="119" font-size="8.2" fill="#333" stroke="#333" stroke-width="0" text-anchor="middle" >17%</text><text x="481.6" y="119" font-size="8.2" fill="#333" stroke="#333" stroke-width="0" text-anchor="middle" >72%</text><text x="541.9" y="119" font-size="8.2" fill="#333" stroke="#333" stroke-width="0" text-anchor="middle" >6%</text><rect x="392" y="172.5" width="117.4" height="20.3" fill="url(#g20)"/><rect x="509.4" y="172.5" width="37.1" height="20.3" fill="url(#g21)"/><text x="450.7" y="185.7" font-size="8.2" fill="#333" stroke="#333" stroke-width="0" text-anchor="middle" >76%</text><text x="528" y="185.7" font-size="8.2" fill="#333" stroke="#333" stroke-width="0" text-anchor="middle" >24%</text><rect x="392" y="223.3" width="43.3" height="20" fill="url(#g22)"/><rect x="435.3" y="223.3" width="23.2" height="20" fill="url(#g23)"/><rect x="458.4" y="223.3" width="88.1" height="20" fill="url(#g24)"/><text x="413.6" y="236.3" font-size="8.2" fill="#333" stroke="#333" stroke-width="0" text-anchor="middle" >28%</text><text x="446.8" y="236.3" font-size="8.2" fill="#333" stroke="#333" stroke-width="0" text-anchor="middle" >15%</text><text x="502.5" y="236.3" font-size="8.2" fill="#333" stroke="#333" stroke-width="0" text-anchor="middle" >56%</text><rect x="392" y="24.5" width="154.5" height="234" fill="none" stroke="#a8a8a8" stroke-width="1"/><line x1="392" y1="141.5" x2="546.5" y2="141.5" stroke="#a8a8a8" stroke-width="1"/><line x1="392" y1="258.5" x2="392" y2="260.5" stroke="#6c6c6c" stroke-width="0.8"/><text x="392" y="270" font-size="10" fill="#222" stroke="#222" stroke-width="0.25" text-anchor="middle" >0</text><line x1="422.9" y1="258.5" x2="422.9" y2="260.5" stroke="#6c6c6c" stroke-width="0.8"/><text x="422.9" y="270" font-size="10" fill="#222" stroke="#222" stroke-width="0.25" text-anchor="middle" >20</text><line x1="453.8" y1="258.5" x2="453.8" y2="260.5" stroke="#6c6c6c" stroke-width="0.8"/><text x="453.8" y="270" font-size="10" fill="#222" stroke="#222" stroke-width="0.25" text-anchor="middle" >40</text><line x1="484.7" y1="258.5" x2="484.7" y2="260.5" stroke="#6c6c6c" stroke-width="0.8"/><text x="484.7" y="270" font-size="10" fill="#222" stroke="#222" stroke-width="0.25" text-anchor="middle" >60</text><line x1="515.6" y1="258.5" x2="515.6" y2="260.5" stroke="#6c6c6c" stroke-width="0.8"/><text x="515.6" y="270" font-size="10" fill="#222" stroke="#222" stroke-width="0.25" text-anchor="middle" >80</text><line x1="546.5" y1="258.5" x2="546.5" y2="260.5" stroke="#6c6c6c" stroke-width="0.8"/><text x="546.5" y="270" font-size="10" fill="#222" stroke="#222" stroke-width="0.25" text-anchor="middle" >100</text><text x="390" y="67.8" font-size="9.1" fill="#222" stroke="#222" stroke-width="0.25" text-anchor="end" >0</text><text x="390" y="119.2" font-size="9.1" fill="#222" stroke="#222" stroke-width="0.25" text-anchor="end" >120</text><text x="390" y="185.6" font-size="9.1" fill="#222" stroke="#222" stroke-width="0.25" text-anchor="end" >0</text><text x="390" y="236.3" font-size="9.1" fill="#222" stroke="#222" stroke-width="0.25" text-anchor="end" >120</text><text x="469.2" y="287" font-size="10.6" fill="#222" stroke="#222" stroke-width="0.25" text-anchor="middle" >Peak area ratio (%)</text><text x="0" y="0" font-size="10.6" fill="#222" stroke="#222" stroke-width="0.25" text-anchor="middle" transform="translate(370.4,140.25) rotate(-90)">Sputtering time (s)</text><rect x="392.8" y="28" width="17.2" height="8.5" fill="url(#g25)"/><rect x="431" y="28" width="17.3" height="8.5" fill="url(#g26)"/><text x="450.3" y="35.6" font-size="8.6" fill="#333" stroke="#333" stroke-width="0" text-anchor="start" >C=O</text><rect x="470" y="28" width="17.7" height="8.5" fill="url(#g27)"/><text x="489.7" y="35.6" font-size="8.6" fill="#333" stroke="#333" stroke-width="0" text-anchor="start" >C-O</text><rect x="507" y="28" width="18" height="8.5" fill="url(#g28)"/><text x="527" y="35.6" font-size="8.6" fill="#333" stroke="#333" stroke-width="0" text-anchor="start" >B-O</text><text x="412.3" y="35.6" font-size="8.6" fill="#333" stroke="#333" stroke-width="0" text-anchor="start">Li<tspan font-size="6.2" dy="2.1">2</tspan><tspan dy="-2.1">O</tspan></text><text x="0.6" y="16.4" font-size="22.5" fill="#000" stroke="#000" stroke-width="0.25" text-anchor="start" >a</text><text x="183.8" y="18.2" font-size="24" fill="#000" stroke="#000" stroke-width="0.25" text-anchor="start" >b</text><text x="365.3" y="17.8" font-size="24.5" fill="#000" stroke="#000" stroke-width="0.25" text-anchor="start" >c</text><text x="552.2" y="21" font-size="23" fill="#000" stroke="#000" stroke-width="0.25" text-anchor="start" >d</text><text x="0.5" y="292.4" font-size="23" fill="#000" stroke="#000" stroke-width="0.25" text-anchor="start" >e</text><line x1="15" y1="297.1" x2="683" y2="297.1" stroke="#54648a" stroke-width="1.6" stroke-dasharray="8.8 3.3 1.3 3.0 1.3 3.45"/><line x1="15.3" y1="297.1" x2="15.3" y2="641" stroke="#54648a" stroke-width="1.6" stroke-dasharray="8.8 3.3 1.3 3.0 1.3 3.45" stroke-dashoffset="16.55"/><line x1="682.9" y1="297.1" x2="682.9" y2="641" stroke="#54648a" stroke-width="1.6" stroke-dasharray="8.8 3.3 1.3 3.0 1.3 3.45" stroke-dashoffset="11.35"/><line x1="15" y1="641" x2="683" y2="641" stroke="#54648a" stroke-width="1.6" stroke-dasharray="8.8 3.3 1.3 3.0 1.3 3.45"/><svg x="25.5" y="302" width="162" height="169.2" viewBox="25.5 302 162 169.2" overflow="hidden"><rect x="25.5" y="302" width="162.0" height="169.2" fill="url(#t1bg)"/><path d="M20,318.5C20.9,318.6 23.4,318.4 25.5,319.1C27.6,319.8 30.1,321.5 32.5,322.8C34.9,324.1 37.6,325.6 40,327C42.4,328.3 44.6,329.5 46.9,330.8C49.2,332.1 51.4,333.3 53.8,334.6C56.1,335.9 58.7,337.2 60.9,338.5C63.1,339.7 65.1,340.8 67.2,342C69.3,343.2 71.5,344.4 73.8,345.7C76,347.1 78.3,348.6 80.6,349.9C82.9,351.3 85.3,352.5 87.5,353.8C89.7,355 91.7,356.3 94,357.6C96.3,358.9 99,360.3 101.2,361.7C103.5,363 105.6,364.2 107.8,365.5C110,366.8 112.2,368.1 114.4,369.4C116.6,370.7 119,372.1 121.2,373.5C123.5,374.9 125.6,376.5 127.8,378C130,379.4 132.2,380.6 134.4,382C136.6,383.4 139,384.9 141.1,386.3C143.2,387.7 145,389 147.1,390.5C149.2,392 151.4,393.8 153.5,395.4C155.6,397.1 157.7,398.7 159.8,400.3C161.9,402 163.9,403.7 165.9,405.3C167.9,406.9 169.9,408.4 171.9,410.1C173.9,411.7 176.3,413.7 178.1,415.1C179.9,416.5 180.9,417.2 182.5,418.6C184.1,420 185.9,422.3 187.5,423.5C189.1,424.7 191.2,425.6 192,426 L192,480 L20,480 Z" fill="url(#t1band)"/><path d="M20,319.1C20.9,319.2 23.4,319 25.5,319.7C27.6,320.4 30.1,322.1 32.5,323.4C34.9,324.7 37.6,326.2 40,327.6C42.4,328.9 44.6,330.1 46.9,331.4C49.2,332.7 51.4,333.9 53.8,335.2C56.1,336.5 58.7,337.8 60.9,339.1C63.1,340.3 65.1,341.4 67.2,342.6C69.3,343.8 71.5,345 73.8,346.3C76,347.7 78.3,349.2 80.6,350.5C82.9,351.9 85.3,353.1 87.5,354.4C89.7,355.6 91.7,356.9 94,358.2C96.3,359.5 99,360.9 101.2,362.3C103.5,363.6 105.6,364.8 107.8,366.1C110,367.4 112.2,368.7 114.4,370C116.6,371.3 119,372.7 121.2,374.1C123.5,375.5 125.6,377.1 127.8,378.6C130,380 132.2,381.2 134.4,382.6C136.6,384 139,385.5 141.1,386.9C143.2,388.3 145,389.6 147.1,391.1C149.2,392.6 151.4,394.4 153.5,396C155.6,397.7 157.7,399.3 159.8,400.9C161.9,402.6 163.9,404.3 165.9,405.9C167.9,407.5 169.9,409 171.9,410.7C173.9,412.3 176.3,414.3 178.1,415.7C179.9,417.1 180.9,417.8 182.5,419.2C184.1,420.6 185.9,422.9 187.5,424.1C189.1,425.3 191.2,426.2 192,426.6" fill="none" stroke="#d0d0d0" stroke-width="1.4" opacity="0.7" filter="url(#bl1)"/><path d="M20,324.5C20.9,324.5 23.4,324 25.5,324.5C27.6,324.9 30.1,326.1 32.5,327.2C34.9,328.2 37.6,329.4 40,330.6C42.4,331.9 44.6,333.1 46.9,334.5C49.2,335.9 51.4,337.4 53.8,338.9C56.1,340.5 58.7,342.2 60.9,343.6C63.1,345.1 65.1,346.3 67.2,347.6C69.3,348.9 71.5,350.1 73.8,351.3C76,352.6 78.3,353.8 80.6,354.9C82.9,355.9 85.3,356.7 87.5,357.7C89.7,358.7 91.7,359.6 94,360.8C96.3,362 99,363.3 101.2,364.7C103.5,366 105.6,367.5 107.8,369C110,370.4 112.2,372 114.4,373.6C116.6,375.2 119,376.8 121.2,378.4C123.5,379.9 125.6,381.6 127.8,383C130,384.4 132.2,385.5 134.4,386.7C136.6,387.8 139,388.9 141.1,390.1C143.2,391.2 145,392.1 147.1,393.4C149.2,394.7 151.4,396.3 153.5,397.9C155.6,399.4 157.7,401 159.8,402.8C161.9,404.5 163.9,406.4 165.9,408.3C167.9,410.1 169.9,411.9 171.9,413.7C173.9,415.6 176.3,417.9 178.1,419.4C179.9,421 180.9,421.6 182.5,423C184.1,424.4 185.9,426.7 187.5,427.8C189.1,429 191.2,429.6 192,429.9" fill="none" stroke="#bcbcbc" stroke-width="1.8" opacity="0.3" filter="url(#bl1)"/><path d="M20,327.5C20.9,327.5 23.4,326.8 25.5,327.3C27.6,327.8 30.1,329.2 32.5,330.4C34.9,331.7 37.6,333.3 40,334.8C42.4,336.3 44.6,337.8 46.9,339.3C49.2,340.8 51.4,342.4 53.8,343.8C56.1,345.3 58.7,346.7 60.9,347.9C63.1,349.2 65.1,350.1 67.2,351.1C69.3,352.1 71.5,353 73.8,354.1C76,355.1 78.3,356.2 80.6,357.2C82.9,358.3 85.3,359.2 87.5,360.4C89.7,361.5 91.7,362.7 94,364.1C96.3,365.5 99,367.2 101.2,368.8C103.5,370.3 105.6,371.9 107.8,373.4C110,374.9 112.2,376.3 114.4,377.7C116.6,379.1 119,380.4 121.2,381.7C123.5,383 125.6,384.4 127.8,385.5C130,386.7 132.2,387.5 134.4,388.6C136.6,389.7 139,390.8 141.1,392C143.2,393.2 145,394.4 147.1,395.9C149.2,397.4 151.4,399.3 153.5,401.1C155.6,402.8 157.7,404.7 159.8,406.5C161.9,408.4 163.9,410.4 165.9,412.2C167.9,414 169.9,415.6 171.9,417.3C173.9,419 176.3,420.9 178.1,422.2C179.9,423.6 180.9,424 182.5,425.3C184.1,426.5 185.9,428.5 187.5,429.5C189.1,430.5 191.2,431 192,431.3" fill="none" stroke="#8c8c8c" stroke-width="1.8" opacity="0.35" filter="url(#bl1)"/><path d="M20,330.6C20.9,330.6 23.4,330.2 25.5,330.9C27.6,331.6 30.1,333.4 32.5,334.8C34.9,336.3 37.6,338.2 40,339.7C42.4,341.3 44.6,342.8 46.9,344.1C49.2,345.5 51.4,346.8 53.8,348C56.1,349.2 58.7,350.2 60.9,351.2C63.1,352.1 65.1,352.8 67.2,353.7C69.3,354.6 71.5,355.5 73.8,356.5C76,357.6 78.3,358.9 80.6,360.1C82.9,361.4 85.3,362.7 87.5,364.1C89.7,365.5 91.7,366.9 94,368.5C96.3,370 99,371.8 101.2,373.2C103.5,374.7 105.6,376.1 107.8,377.4C110,378.6 112.2,379.8 114.4,380.9C116.6,382 119,382.9 121.2,384C123.5,385.1 125.6,386.3 127.8,387.5C130,388.6 132.2,389.6 134.4,390.8C136.6,392 139,393.5 141.1,394.9C143.2,396.3 145,397.7 147.1,399.4C149.2,401.1 151.4,403.2 153.5,405C155.6,406.9 157.7,408.7 159.8,410.4C161.9,412.2 163.9,413.9 165.9,415.5C167.9,417 169.9,418.4 171.9,419.8C173.9,421.2 176.3,422.9 178.1,424C179.9,425.2 180.9,425.6 182.5,426.8C184.1,427.9 185.9,429.9 187.5,431C189.1,432 191.2,432.7 192,433.1" fill="none" stroke="#b0b0b0" stroke-width="1.8" opacity="0.25" filter="url(#bl1)"/><path d="M20,334.6C20.9,334.8 23.4,334.7 25.5,335.6C27.6,336.4 30.1,338.4 32.5,339.9C34.9,341.4 37.6,343.1 40,344.5C42.4,345.9 44.6,347 46.9,348.1C49.2,349.2 51.4,350.1 53.8,351.1C56.1,352 58.7,352.8 60.9,353.7C63.1,354.6 65.1,355.4 67.2,356.4C69.3,357.4 71.5,358.5 73.8,359.8C76,361.1 78.3,362.7 80.6,364.2C82.9,365.6 85.3,367.2 87.5,368.6C89.7,370.1 91.7,371.5 94,372.9C96.3,374.3 99,375.8 101.2,377C103.5,378.2 105.6,379.2 107.8,380.3C110,381.3 112.2,382.1 114.4,383.1C116.6,384 119,384.9 121.2,386.1C123.5,387.2 125.6,388.6 127.8,389.9C130,391.3 132.2,392.5 134.4,394C136.6,395.5 139,397.2 141.1,398.8C143.2,400.4 145,401.8 147.1,403.5C149.2,405.2 151.4,407.1 153.5,408.8C155.6,410.4 157.7,412 159.8,413.4C161.9,414.9 163.9,416.3 165.9,417.7C167.9,419 169.9,420.1 171.9,421.5C173.9,422.8 176.3,424.4 178.1,425.6C179.9,426.8 180.9,427.3 182.5,428.6C184.1,429.9 185.9,432.1 187.5,433.3C189.1,434.5 191.2,435.5 192,435.9" fill="none" stroke="#7a7a7a" stroke-width="1.8" opacity="0.3" filter="url(#bl1)"/><path d="M20,346.7C20.9,346.9 23.2,347.2 25.5,347.8C27.8,348.4 31.4,349.4 34,350.2C36.6,351 38.6,352 40.9,352.8C43.1,353.6 45.3,354.2 47.5,355.2C49.7,356.2 51.7,357.4 54,358.7C56.3,360 59,361.4 61.2,363.1C63.5,364.8 65.3,366.8 67.2,368.7C69.1,370.6 70.7,372.7 72.5,374.6C74.3,376.5 76.2,378.5 78.1,380.3C80,382.1 82,384 84.1,385.6C86.2,387.1 88.6,388.5 90.9,389.6C93.2,390.7 95.6,391.7 98.1,392.4C100.5,393.2 103.1,393.7 105.6,394.3C108,394.9 110.4,395.5 112.8,396.2C115.2,396.9 117.3,397.7 119.7,398.7C122.1,399.7 124.6,401.1 126.9,402.4C129.2,403.8 131.2,405.2 133.4,406.8C135.6,408.4 138.1,410.2 140.2,411.8C142.3,413.4 144,414.7 146,416.3C148,417.9 150,419.6 152,421.2C154,422.8 156,424.7 158.1,426.2C160.2,427.7 162.4,429 164.7,430.3C166.9,431.6 169.2,433 171.6,434C174,435 177.3,436 179,436.5C180.7,437 180.1,436.6 181.5,437C182.9,437.4 185.8,438.7 187.5,439.2C189.2,439.7 191.2,440 192,440.2 L192,480 L20,480 Z" fill="#3a3a3a" filter="url(#bl1)"/><path d="M20,346.7C20.9,346.9 23.2,347.2 25.5,347.8C27.8,348.4 31.4,349.4 34,350.2C36.6,351 38.6,352 40.9,352.8C43.1,353.6 45.3,354.2 47.5,355.2C49.7,356.2 51.7,357.4 54,358.7C56.3,360 59,361.4 61.2,363.1C63.5,364.8 65.3,366.8 67.2,368.7C69.1,370.6 70.7,372.7 72.5,374.6C74.3,376.5 76.2,378.5 78.1,380.3C80,382.1 82,384 84.1,385.6C86.2,387.1 88.6,388.5 90.9,389.6C93.2,390.7 95.6,391.7 98.1,392.4C100.5,393.2 103.1,393.7 105.6,394.3C108,394.9 110.4,395.5 112.8,396.2C115.2,396.9 117.3,397.7 119.7,398.7C122.1,399.7 124.6,401.1 126.9,402.4C129.2,403.8 131.2,405.2 133.4,406.8C135.6,408.4 138.1,410.2 140.2,411.8C142.3,413.4 144,414.7 146,416.3C148,417.9 150,419.6 152,421.2C154,422.8 156,424.7 158.1,426.2C160.2,427.7 162.4,429 164.7,430.3C166.9,431.6 169.2,433 171.6,434C174,435 177.3,436 179,436.5C180.7,437 180.1,436.6 181.5,437C182.9,437.4 185.8,438.7 187.5,439.2C189.2,439.7 191.2,440 192,440.2 L192,480 L20,480 Z" fill="#151515" transform="translate(0,3.5)" filter="url(#bl2)"/><path d="M20,346.7C20.9,346.9 23.2,347.2 25.5,347.8C27.8,348.4 31.4,349.4 34,350.2C36.6,351 38.6,352 40.9,352.8C43.1,353.6 45.3,354.2 47.5,355.2C49.7,356.2 51.7,357.4 54,358.7C56.3,360 59,361.4 61.2,363.1C63.5,364.8 65.3,366.8 67.2,368.7C69.1,370.6 70.7,372.7 72.5,374.6C74.3,376.5 76.2,378.5 78.1,380.3C80,382.1 82,384 84.1,385.6C86.2,387.1 88.6,388.5 90.9,389.6C93.2,390.7 95.6,391.7 98.1,392.4C100.5,393.2 103.1,393.7 105.6,394.3C108,394.9 110.4,395.5 112.8,396.2C115.2,396.9 117.3,397.7 119.7,398.7C122.1,399.7 124.6,401.1 126.9,402.4C129.2,403.8 131.2,405.2 133.4,406.8C135.6,408.4 138.1,410.2 140.2,411.8C142.3,413.4 144,414.7 146,416.3C148,417.9 150,419.6 152,421.2C154,422.8 156,424.7 158.1,426.2C160.2,427.7 162.4,429 164.7,430.3C166.9,431.6 169.2,433 171.6,434C174,435 177.3,436 179,436.5C180.7,437 180.1,436.6 181.5,437C182.9,437.4 185.8,438.7 187.5,439.2C189.2,439.7 191.2,440 192,440.2 L192,480 L20,480 Z" fill="#101010" transform="translate(0,14)" filter="url(#bl3)"/><rect x="25.5" y="302" width="162.0" height="169.2" filter="url(#grain)" opacity="0.06"/><path d="M25.5,322.3C26.7,322.9 30.1,324.6 32.5,325.9C34.9,327.2 37.6,328.7 40,330C42.4,331.3 44.6,332.5 46.9,333.8C49.2,335 51.4,336.2 53.8,337.5C56.1,338.8 58.7,340.1 60.9,341.2C63.1,342.4 65.1,343.5 67.2,344.7C69.3,345.9 71.5,347.1 73.8,348.4C76,349.7 78.3,351.2 80.6,352.5C82.9,353.8 85.3,355 87.5,356.2C89.7,357.5 91.7,358.7 94,360C96.3,361.3 99,362.7 101.2,364C103.5,365.3 105.6,366.5 107.8,367.8C110,369.1 112.2,370.3 114.4,371.6C116.6,372.9 119,374.2 121.2,375.6C123.5,377 125.6,378.6 127.8,380C130,381.4 132.2,382.6 134.4,384C136.6,385.4 139,386.8 141.1,388.2C143.2,389.6 145,390.8 147.1,392.3C149.2,393.8 151.4,395.6 153.5,397.2C155.6,398.8 157.7,400.4 159.8,402C161.9,403.6 163.9,405.3 165.9,406.9C167.9,408.5 169.9,410 171.9,411.6C173.9,413.2 176.3,415.2 178.1,416.6C179.9,418 181.8,419.4 182.5,420" fill="none" stroke="#fff" stroke-width="1.5" stroke-dasharray="4 3.3"/><path d="M25.5,346.6C26.9,347 31.4,348.2 34,349C36.6,349.8 38.6,350.8 40.9,351.6C43.1,352.4 45.3,353 47.5,354C49.7,355 51.7,356.2 54,357.5C56.3,358.8 59,360.2 61.2,361.9C63.5,363.6 65.3,365.6 67.2,367.5C69.1,369.4 70.7,371.5 72.5,373.4C74.3,375.3 76.2,377.3 78.1,379.1C80,380.9 82,382.8 84.1,384.4C86.2,385.9 88.6,387.3 90.9,388.4C93.2,389.5 95.6,390.5 98.1,391.2C100.5,392 103.1,392.5 105.6,393.1C108,393.7 110.4,394.3 112.8,395C115.2,395.7 117.3,396.5 119.7,397.5C122.1,398.5 124.6,399.9 126.9,401.2C129.2,402.6 131.2,404 133.4,405.6C135.6,407.2 138.1,409 140.2,410.6C142.3,412.2 144,413.5 146,415.1C148,416.7 150,418.4 152,420C154,421.6 156,423.5 158.1,425C160.2,426.5 162.4,427.8 164.7,429.1C166.9,430.4 169.2,431.8 171.6,432.8C174,433.8 177.3,434.8 179,435.3C180.7,435.8 181.1,435.7 181.5,435.8" fill="none" stroke="#fff" stroke-width="1.5" stroke-dasharray="4 3.3"/><text x="183.5" y="459.2" font-size="13.5" fill="#fff" stroke="#fff" stroke-width="0.3" text-anchor="end">100nm</text><rect x="149" y="462.8" width="33" height="4.8" fill="#fff"/></svg><svg x="190" y="302" width="158" height="169.5" viewBox="190 302 158 169.5" overflow="hidden"><rect x="190" y="302" width="158" height="170" fill="#8b8b8b"/><ellipse cx="335" cy="320" rx="30" ry="40" fill="#939393" filter="url(#bl3)"/><path d="M270,298C270.8,298.7 271.8,298.7 274.8,302C277.8,305.3 284,311.3 288,317.9C292,324.5 296,333.3 298.6,341.7C301.2,350.1 302.9,359.4 303.9,368.2C304.9,377 304.9,385.9 304.5,394.7C304.1,403.5 302.3,412.8 301.3,421.2C300.3,429.6 299.5,436.5 298.6,445C297.7,453.5 296.4,466.8 296,472C295.6,477.2 296,475.3 296,476 L185,476 L185,298 Z" fill="#7e7e7e" filter="url(#bl1)"/><ellipse cx="247" cy="396" rx="54" ry="78" fill="#616161" filter="url(#bl2)"/><ellipse cx="248" cy="398" rx="46" ry="68" fill="#595959" filter="url(#bl3)"/><ellipse cx="262" cy="352" rx="9" ry="7" fill="#3e3e3e" filter="url(#bl2)"/><ellipse cx="253" cy="380" rx="10" ry="8" fill="#464646" filter="url(#bl2)"/><ellipse cx="222" cy="395" rx="9" ry="8" fill="#474747" filter="url(#bl2)"/><ellipse cx="272" cy="424" rx="14" ry="10" fill="#484848" filter="url(#bl2)"/><ellipse cx="237" cy="335" rx="12" ry="9" fill="#505050" filter="url(#bl2)"/><ellipse cx="260" cy="410" rx="12" ry="8" fill="#525252" filter="url(#bl2)"/><ellipse cx="230" cy="440" rx="10" ry="8" fill="#4e4e4e" filter="url(#bl2)"/><ellipse cx="200" cy="310" rx="32" ry="18" fill="#8c8c8c" filter="url(#bl3)"/><ellipse cx="192" cy="340" rx="8" ry="30" fill="#808080" filter="url(#bl3)"/><rect x="190" y="302" width="158" height="170" filter="url(#grain2)" opacity="0.36" clip-path="url(#t2clip)"/><rect x="190" y="302" width="158" height="170" filter="url(#grain)" opacity="0.10"/><circle cx="266.8" cy="366.9" r="13.6" fill="none" stroke="#eee" stroke-width="1" stroke-dasharray="2.6 2"/><circle cx="228.4" cy="446.5" r="14.7" fill="none" stroke="#eee" stroke-width="1" stroke-dasharray="2.6 2"/><line x1="261.2" y1="368.3" x2="270.8" y2="362.8" stroke="#eee" stroke-width="0.7"/><line x1="224.1" y1="451.6" x2="230.2" y2="440.1" stroke="#eee" stroke-width="0.7"/><line x1="262" y1="369.6" x2="271.6" y2="364.1" stroke="#eee" stroke-width="0.7"/><line x1="225.3" y1="452.2" x2="231.5" y2="440.8" stroke="#eee" stroke-width="0.7"/><line x1="262.8" y1="371" x2="272.4" y2="365.5" stroke="#eee" stroke-width="0.7"/><line x1="226.6" y1="452.9" x2="232.7" y2="441.4" stroke="#eee" stroke-width="0.7"/><text x="257.4" y="342.3" font-size="11.5" fill="#e6e6e6" stroke="#e6e6e6" stroke-width="0.25" text-anchor="start">Li<tspan font-size="8.3" dy="2.9">2</tspan><tspan dy="-2.9">O</tspan></text><text x="202.6" y="412" font-size="11.5" fill="#e6e6e6" stroke="#e6e6e6" stroke-width="0.25" text-anchor="start">Li<tspan font-size="8.3" dy="2.9">2</tspan><tspan dy="-2.9">O</tspan></text><text x="236.2" y="395.3" font-size="10.5" fill="#e6e6e6" stroke="#e6e6e6" stroke-width="0.2">d<tspan font-size="7" dy="2.3">(111)</tspan><tspan dy="-2.3"> =0.267nm</tspan></text><text x="194.6" y="424.4" font-size="10.5" fill="#e6e6e6" stroke="#e6e6e6" stroke-width="0.2">d<tspan font-size="7" dy="2.3">(200)</tspan><tspan dy="-2.3"> =0.231nm</tspan></text><text x="344.6" y="457.8" font-size="13" fill="#fff" stroke="#fff" stroke-width="0.3" text-anchor="end">5nm</text><rect x="315" y="462" width="29.8" height="4.6" fill="#fff"/></svg><svg x="351" y="301.3" width="160.7" height="169.4" viewBox="351 301.3 160.7 169.4" overflow="hidden"><rect x="351" y="301.3" width="160.7" height="169.4" fill="#0d0d0d"/><circle cx="441" cy="373" r="46" fill="url(#glow3)"/><circle cx="456" cy="393.3" r="0.7" fill="#aaa" opacity="0.85"/><circle cx="477" cy="391" r="0.7" fill="#aaa" opacity="0.31"/><circle cx="442" cy="414.8" r="0.7" fill="#aaa" opacity="0.90"/><circle cx="397.9" cy="361.1" r="0.7" fill="#aaa" opacity="0.54"/><circle cx="452.4" cy="394.3" r="0.7" fill="#aaa" opacity="0.86"/><circle cx="417.6" cy="336.2" r="0.7" fill="#aaa" opacity="0.34"/><circle cx="456.8" cy="377.7" r="0.7" fill="#aaa" opacity="0.82"/><circle cx="475.2" cy="353.6" r="0.7" fill="#aaa" opacity="0.53"/><circle cx="451.1" cy="334.5" r="0.7" fill="#aaa" opacity="0.57"/><circle cx="460.5" cy="389.8" r="0.7" fill="#aaa" opacity="0.38"/><circle cx="426.2" cy="351.9" r="0.7" fill="#aaa" opacity="0.77"/><circle cx="454.4" cy="345.7" r="0.7" fill="#aaa" opacity="0.64"/><circle cx="472.9" cy="350" r="0.7" fill="#aaa" opacity="0.71"/><circle cx="459.4" cy="372.8" r="0.7" fill="#aaa" opacity="0.70"/><circle cx="425.6" cy="397.8" r="0.7" fill="#aaa" opacity="0.63"/><circle cx="443" cy="394.2" r="0.7" fill="#aaa" opacity="0.80"/><circle cx="467.6" cy="386.5" r="0.7" fill="#aaa" opacity="0.81"/><circle cx="450.6" cy="335.7" r="0.7" fill="#aaa" opacity="0.55"/><circle cx="416.4" cy="384.6" r="0.7" fill="#aaa" opacity="0.55"/><circle cx="424.3" cy="362" r="0.7" fill="#aaa" opacity="0.33"/><circle cx="467.3" cy="358.3" r="0.7" fill="#aaa" opacity="0.47"/><circle cx="427.7" cy="400" r="0.7" fill="#aaa" opacity="0.35"/><circle cx="459.4" cy="370.1" r="0.7" fill="#aaa" opacity="0.47"/><circle cx="468.5" cy="382.3" r="0.7" fill="#aaa" opacity="0.82"/><circle cx="458.9" cy="398.8" r="0.7" fill="#aaa" opacity="0.82"/><circle cx="396.5" cy="368.7" r="0.7" fill="#aaa" opacity="0.69"/><circle cx="457.1" cy="366.5" r="0.7" fill="#aaa" opacity="0.60"/><circle cx="428.9" cy="332.5" r="0.7" fill="#aaa" opacity="0.86"/><circle cx="394.5" cy="368.2" r="0.7" fill="#aaa" opacity="0.63"/><circle cx="459.1" cy="372.3" r="0.7" fill="#aaa" opacity="0.49"/><circle cx="409.4" cy="342.7" r="0.7" fill="#aaa" opacity="0.34"/><circle cx="423.9" cy="344.3" r="0.7" fill="#aaa" opacity="0.51"/><circle cx="471.6" cy="378.7" r="0.7" fill="#aaa" opacity="0.34"/><circle cx="437.8" cy="395.9" r="0.7" fill="#aaa" opacity="0.57"/><circle cx="450.5" cy="403.1" r="0.7" fill="#aaa" opacity="0.75"/><circle cx="414.9" cy="396.5" r="0.7" fill="#aaa" opacity="0.76"/><circle cx="429.1" cy="354" r="0.7" fill="#aaa" opacity="0.38"/><circle cx="434.8" cy="400.4" r="0.7" fill="#aaa" opacity="0.50"/><circle cx="472.9" cy="398.4" r="0.7" fill="#aaa" opacity="0.66"/><circle cx="443.4" cy="407.3" r="0.7" fill="#aaa" opacity="0.79"/><circle cx="436.8" cy="349.7" r="0.7" fill="#aaa" opacity="0.43"/><circle cx="447.5" cy="334" r="0.7" fill="#aaa" opacity="0.32"/><circle cx="451" cy="352.4" r="0.7" fill="#aaa" opacity="0.64"/><circle cx="453.2" cy="345.4" r="0.7" fill="#aaa" opacity="0.35"/><circle cx="408.6" cy="389.8" r="0.7" fill="#aaa" opacity="0.61"/><circle cx="416.1" cy="349.5" r="0.7" fill="#aaa" opacity="0.47"/><circle cx="403.7" cy="394.8" r="0.7" fill="#aaa" opacity="0.42"/><circle cx="469.9" cy="344" r="0.7" fill="#aaa" opacity="0.89"/><circle cx="480.1" cy="370.2" r="0.7" fill="#aaa" opacity="0.73"/><circle cx="448.9" cy="356.1" r="0.7" fill="#aaa" opacity="0.70"/><circle cx="463.5" cy="352.8" r="0.7" fill="#aaa" opacity="0.82"/><circle cx="439.1" cy="405.5" r="0.7" fill="#aaa" opacity="0.32"/><circle cx="460.3" cy="357.7" r="0.7" fill="#aaa" opacity="0.65"/><circle cx="452.5" cy="387.7" r="0.7" fill="#aaa" opacity="0.60"/><circle cx="411.7" cy="369.8" r="0.7" fill="#aaa" opacity="0.55"/><circle cx="437.7" cy="393.4" r="0.7" fill="#aaa" opacity="0.82"/><circle cx="478.1" cy="390.3" r="0.7" fill="#aaa" opacity="0.43"/><circle cx="446.2" cy="355.6" r="0.7" fill="#aaa" opacity="0.40"/><circle cx="450" cy="341.4" r="0.7" fill="#aaa" opacity="0.79"/><circle cx="420" cy="365.4" r="0.7" fill="#aaa" opacity="0.54"/><rect x="351" y="301.3" width="160.7" height="169.4" filter="url(#grain)" opacity="0.05"/><polygon points="351,398.8 439.5,364.6 446.9,385.3 351,423.4" fill="#000"/><path d="M423.6,336.5 A41.8,41.8 0 1 1 422.9,415.9" fill="none" stroke="#f2f2f2" stroke-width="1.3" stroke-dasharray="7 3"/><path d="M424.7,354.8 A25.8,25.8 0 1 1 424.4,401.1" fill="none" stroke="#f2f2f2" stroke-width="1.3" stroke-dasharray="7 3"/><line x1="391.8" y1="322.2" x2="421.8" y2="335.8" stroke="#eee" stroke-width="0.8"/><path d="M421.8,335.8 L417,335.6 L418.4,332.3 Z" fill="#eee"/><line x1="389" y1="441.2" x2="418" y2="408.5" stroke="#eee" stroke-width="0.8"/><path d="M418,408.5 L416.4,413.1 L413.7,410.7 Z" fill="#eee"/><text x="356.4" y="319.5" font-size="13.4" fill="#eee" stroke="#eee" stroke-width="0.3">Li<tspan font-size="9.6" dy="3.2">2</tspan><tspan dy="-3.2">O (200)</tspan></text><text x="357" y="461" font-size="13.4" fill="#eee" stroke="#eee" stroke-width="0.3">Li<tspan font-size="9.6" dy="3.2">2</tspan><tspan dy="-3.2">O (111)</tspan></text><text x="506.5" y="457.2" font-size="13" fill="#fff" stroke="#fff" stroke-width="0.3" text-anchor="end">5 1/nm</text><rect x="468.4" y="461" width="37.2" height="4.6" fill="#fff"/></svg><svg x="513.5" y="301.3" width="157.7" height="169.3" viewBox="513.5 301.3 157.7 169.3" overflow="hidden"><rect x="513.5" y="301.3" width="157.7" height="169.3" fill="#0d0d0d"/><circle cx="600" cy="384" r="58" fill="url(#glow4)"/><ellipse cx="602.2" cy="360.4" rx="3.5" ry="3" fill="#fff" filter="url(#bl1)"/><ellipse cx="598.5" cy="404" rx="5" ry="7" fill="#fff" filter="url(#bl1)"/><ellipse cx="601" cy="384" rx="17" ry="18" fill="#fff" filter="url(#bl2)"/><rect x="513.5" y="301.3" width="157.7" height="169.3" filter="url(#grain)" opacity="0.05"/><polygon points="513.5,405.2 603.7,373.3 610,390.7 513.5,429.6" fill="#000"/><path d="M592,344.7 A42.8,42.8 0 1 1 591.3,427.3" fill="none" stroke="#f2f2f2" stroke-width="1.3" stroke-dasharray="7 3"/><path d="M594.4,355.7 A31.1,31.1 0 1 1 593,414.4" fill="none" stroke="#f2f2f2" stroke-width="1.3" stroke-dasharray="7 3"/><line x1="570" y1="321.4" x2="587.4" y2="343" stroke="#eee" stroke-width="0.8"/><path d="M587.4,343 L583.2,340.6 L586,338.4 Z" fill="#eee"/><line x1="549.4" y1="441.4" x2="585.8" y2="411.8" stroke="#eee" stroke-width="0.8"/><path d="M585.8,411.8 L583.4,416 L581.2,413.2 Z" fill="#eee"/><text x="517.4" y="314.8" font-size="13.4" fill="#eee" stroke="#eee" stroke-width="0.3">Li<tspan font-size="9.6" dy="3.2">2</tspan><tspan dy="-3.2">O (200)</tspan></text><text x="518.8" y="459.5" font-size="13.4" fill="#eee" stroke="#eee" stroke-width="0.3">Li<tspan font-size="9.6" dy="3.2">2</tspan><tspan dy="-3.2">O (111)</tspan></text><text x="666.8" y="456.5" font-size="13" fill="#fff" stroke="#fff" stroke-width="0.3" text-anchor="end">5 1/nm</text><rect x="628.8" y="461.2" width="36.9" height="4.6" fill="#fff"/></svg><svg x="24" y="475.2" width="161" height="165.3" viewBox="24 475.2 161 165.3" overflow="hidden"><rect x="24" y="475.2" width="161" height="166" fill="#020202"/><path d="M20,645C21.2,643.9 23.5,641.6 27,638.1C30.5,634.6 36.3,629.1 41,624.1C45.7,619.1 50.3,613.3 55,608.3C59.7,603.3 64.9,598.7 69,594.3C73.1,589.9 76.1,586.4 79.6,582C83.1,577.6 86.5,572.7 90,568C93.5,563.3 97.2,558.3 100.6,554C104,549.7 106,547.1 110.2,542C114.4,536.9 120.6,528.5 125.8,523.3C131,518.1 137,515.2 141.4,510.8C145.8,506.4 149.2,501.2 152.3,496.8C155.4,492.4 157.5,487.7 160.1,484.3C162.7,480.9 165.9,479 167.9,476.6C169.9,474.2 171.3,471.1 172,470 L190,470 L190,645 Z" fill="#383838" filter="url(#bl1)"/><path d="M21.6,646.1C22.8,645 25.1,642.7 28.6,639.2C32.1,635.7 37.9,630.2 42.6,625.2C47.3,620.2 51.9,614.4 56.6,609.4C61.3,604.4 66.5,599.8 70.6,595.4C74.7,591 77.7,587.5 81.2,583.1C84.7,578.7 88.1,573.8 91.6,569.1C95.1,564.4 98.8,559.4 102.2,555.1C105.6,550.8 107.6,548.2 111.8,543.1C116,538 122.2,529.6 127.4,524.4C132.6,519.2 138.6,516.3 143,511.9C147.4,507.5 150.8,502.3 153.9,497.9C157,493.5 159.1,488.8 161.7,485.4C164.3,482 167.5,480.1 169.5,477.7C171.5,475.3 172.9,472.2 173.6,471.1" fill="none" stroke="#646464" stroke-width="2.6" filter="url(#bl1)"/><path d="M20.8,645.5C22,644.4 24.3,642.1 27.8,638.6C31.3,635.1 37.1,629.6 41.8,624.6C46.5,619.6 51.1,613.8 55.8,608.8C60.5,603.8 65.7,599.2 69.8,594.8C73.9,590.4 76.9,586.9 80.4,582.5C83.9,578.1 87.3,573.2 90.8,568.5C94.3,563.8 98,558.8 101.4,554.5C104.8,550.2 106.8,547.6 111,542.5C115.2,537.4 121.4,529 126.6,523.8C131.8,518.6 137.8,515.7 142.2,511.3C146.6,506.9 150,501.7 153.1,497.3C156.2,492.9 158.3,488.2 160.9,484.8C163.5,481.4 166.7,479.5 168.7,477.1C170.7,474.7 172.1,471.6 172.8,470.5" fill="none" stroke="#7a7a7a" stroke-width="0.8" opacity="0.8"/><path d="M24,648C25.2,646.9 27.5,644.6 31,641.1C34.5,637.6 40.3,632.1 45,627.1C49.7,622.1 54.3,616.3 59,611.3C63.7,606.3 68.9,601.7 73,597.3C77.1,592.9 80.1,589.4 83.6,585C87.1,580.6 90.5,575.7 94,571C97.5,566.3 101.2,561.3 104.6,557C108,552.7 110,550.1 114.2,545C118.4,539.9 124.6,531.5 129.8,526.3C135,521.1 141,518.2 145.4,513.8C149.8,509.4 153.2,504.2 156.3,499.8C159.4,495.4 161.5,490.7 164.1,487.3C166.7,483.9 169.9,482 171.9,479.6C173.9,477.2 175.3,474.1 176,473" fill="none" stroke="#444" stroke-width="3" filter="url(#bl1)"/><ellipse cx="141" cy="542" rx="11" ry="20" transform="rotate(20 141 542)" fill="#555" filter="url(#bl2)"/><ellipse cx="141" cy="542" rx="11" ry="20" transform="rotate(20 141 542)" fill="none" stroke="#777" stroke-width="1" opacity="0.7" filter="url(#bl1)"/><path d="M53.3,639.9C55.9,638.1 64.3,632.9 69,629.4C73.7,625.9 77.8,622 81.3,618.8C84.8,615.6 88,613.2 90,610C92,606.8 92.1,602.5 93.6,599.6C95.1,596.7 96.5,595 98.8,592.6C101.1,590.2 104.4,587.9 107.6,585.5C110.8,583.1 114.6,580.5 118.1,578.5C121.6,576.5 126,575 128.6,573.3C131.2,571.5 131.8,569.9 133.9,568C136,566.1 139.1,566 141.4,562.2C143.7,558.4 145.8,550 147.6,545.1C149.4,540.2 150.2,536.5 152.3,532.6C154.4,528.7 157.7,525.3 160.1,521.7C162.5,518.1 164.7,515.2 166.5,510.8C168.3,506.4 170,499.9 171,495.2C172,490.5 172.2,486.2 172.5,482.8C172.8,479.4 172.9,477.1 173,475C173.1,472.9 173,470.8 173,470 L190,470 L190,645 Z" fill="#fbfbfb" filter="url(#bl2)"/><path d="M53.3,639.9C55.9,638.1 64.3,632.9 69,629.4C73.7,625.9 77.8,622 81.3,618.8C84.8,615.6 88,613.2 90,610C92,606.8 92.1,602.5 93.6,599.6C95.1,596.7 96.5,595 98.8,592.6C101.1,590.2 104.4,587.9 107.6,585.5C110.8,583.1 114.6,580.5 118.1,578.5C121.6,576.5 126,575 128.6,573.3C131.2,571.5 131.8,569.9 133.9,568C136,566.1 139.1,566 141.4,562.2C143.7,558.4 145.8,550 147.6,545.1C149.4,540.2 150.2,536.5 152.3,532.6C154.4,528.7 157.7,525.3 160.1,521.7C162.5,518.1 164.7,515.2 166.5,510.8C168.3,506.4 170,499.9 171,495.2C172,490.5 172.2,486.2 172.5,482.8C172.8,479.4 172.9,477.1 173,475C173.1,472.9 173,470.8 173,470 L190,470 L190,645 Z" fill="#fff" transform="translate(4,1)" filter="url(#bl1)"/><ellipse cx="172.5" cy="480" rx="3" ry="4.5" fill="#f4f4f4" filter="url(#bl1)"/><circle cx="33.5" cy="632.2" r="1.1" fill="#d8d8d8" filter="url(#bl1)"/><circle cx="44.5" cy="619.2" r="1.1" fill="#d8d8d8" filter="url(#bl1)"/><circle cx="53.5" cy="611.2" r="1.1" fill="#d8d8d8" filter="url(#bl1)"/><circle cx="68.5" cy="596.2" r="1.1" fill="#d8d8d8" filter="url(#bl1)"/><circle cx="82.5" cy="586.2" r="1.1" fill="#d8d8d8" filter="url(#bl1)"/><circle cx="89.5" cy="577.2" r="1.1" fill="#d8d8d8" filter="url(#bl1)"/><circle cx="104.5" cy="560.2" r="1.1" fill="#d8d8d8" filter="url(#bl1)"/><circle cx="117.5" cy="547.2" r="1.1" fill="#d8d8d8" filter="url(#bl1)"/><circle cx="129.5" cy="531.2" r="1.1" fill="#d8d8d8" filter="url(#bl1)"/><circle cx="141.5" cy="520.2" r="1.1" fill="#d8d8d8" filter="url(#bl1)"/><circle cx="148.5" cy="513.2" r="1.1" fill="#d8d8d8" filter="url(#bl1)"/><circle cx="153.5" cy="505.2" r="1.1" fill="#d8d8d8" filter="url(#bl1)"/><circle cx="165.5" cy="489.2" r="1.1" fill="#d8d8d8" filter="url(#bl1)"/><circle cx="168.5" cy="484.2" r="1.1" fill="#d8d8d8" filter="url(#bl1)"/><circle cx="175.5" cy="481.2" r="1.1" fill="#d8d8d8" filter="url(#bl1)"/><circle cx="179.5" cy="478.2" r="1.1" fill="#d8d8d8" filter="url(#bl1)"/></svg><svg x="188.5" y="475.2" width="157.7" height="165.3" viewBox="188.5 475.2 157.7 165.3" overflow="hidden"><rect x="188.5" y="475.2" width="157.7" height="165.3" fill="#000"/><g filter="url(#edsC)"><rect x="188.5" y="475.2" width="157.7" height="165.3" fill="#000"/><rect x="188" y="475" width="160" height="170" fill="#2e2e2e"/><path d="M305,460C304.7,462.5 304.8,466.7 303,475C301.2,483.3 298.8,498.3 294,510C289.2,521.7 282.3,533.3 274,545C265.7,556.7 255.5,569.2 244,580C232.5,590.8 215.7,602 205,610C194.3,618 184.2,625 180,628 L170,660 L360,660 L360,460 Z" fill="#626262" filter="url(#bl6)"/><path d="M330,460C329.3,465 328,478.3 326,490C324,501.7 321.7,516.7 318,530C314.3,543.3 310,556.7 304,570C298,583.3 290.2,597.5 282,610C273.8,622.5 261.2,636.7 255,645C248.8,653.3 246.7,657.5 245,660 L360,660 L360,460 Z" fill="#7e7e7e" filter="url(#bl6)"/><circle cx="340" cy="580" r="80" fill="url(#dCr)"/></g><path d="M266 567h1.2v1.2h-1.2zM315 528h1.2v1.2h-1.2zM239 589h1.2v1.2h-1.2zM265 535h1.2v1.2h-1.2zM252 530h1.2v1.2h-1.2zM215 579h1.2v1.2h-1.2zM328 588h1.2v1.2h-1.2zM288 531h1.2v1.2h-1.2zM257 500h1.2v1.2h-1.2zM302 524h1.2v1.2h-1.2zM235 635h1.2v1.2h-1.2zM242 635h1.2v1.2h-1.2zM285 600h1.2v1.2h-1.2zM287 505h1.2v1.2h-1.2zM300 518h1.2v1.2h-1.2zM253 497h1.2v1.2h-1.2zM199 536h1.2v1.2h-1.2zM192 539h1.2v1.2h-1.2zM321 638h1.2v1.2h-1.2zM255 494h1.2v1.2h-1.2zM243 487h1.2v1.2h-1.2zM223 577h1.2v1.2h-1.2zM285 481h1.2v1.2h-1.2zM265 545h1.2v1.2h-1.2zM251 498h1.2v1.2h-1.2zM250 493h1.2v1.2h-1.2zM296 582h1.2v1.2h-1.2zM287 542h1.2v1.2h-1.2zM338 536h1.2v1.2h-1.2zM221 537h1.2v1.2h-1.2zM331 502h1.2v1.2h-1.2zM308 628h1.2v1.2h-1.2zM321 552h1.2v1.2h-1.2zM259 618h1.2v1.2h-1.2zM299 607h1.2v1.2h-1.2zM217 575h1.2v1.2h-1.2zM304 515h1.2v1.2h-1.2zM222 613h1.2v1.2h-1.2zM277 543h1.2v1.2h-1.2zM265 518h1.2v1.2h-1.2zM228 493h1.2v1.2h-1.2zM252 500h1.2v1.2h-1.2zM328 631h1.2v1.2h-1.2zM281 491h1.2v1.2h-1.2zM282 501h1.2v1.2h-1.2zM247 497h1.2v1.2h-1.2zM266 488h1.2v1.2h-1.2zM233 514h1.2v1.2h-1.2zM262 627h1.2v1.2h-1.2zM279 603h1.2v1.2h-1.2zM302 562h1.2v1.2h-1.2zM200 486h1.2v1.2h-1.2zM210 560h1.2v1.2h-1.2zM242 627h1.2v1.2h-1.2zM220 498h1.2v1.2h-1.2zM289 575h1.2v1.2h-1.2zM198 532h1.2v1.2h-1.2zM258 610h1.2v1.2h-1.2zM310 618h1.2v1.2h-1.2zM272 628h1.2v1.2h-1.2zM262 523h1.2v1.2h-1.2zM211 611h1.2v1.2h-1.2zM290 576h1.2v1.2h-1.2zM341 579h1.2v1.2h-1.2zM237 589h1.2v1.2h-1.2zM333 505h1.2v1.2h-1.2zM335 544h1.2v1.2h-1.2zM207 559h1.2v1.2h-1.2zM310 556h1.2v1.2h-1.2zM231 601h1.2v1.2h-1.2zM205 585h1.2v1.2h-1.2zM245 576h1.2v1.2h-1.2zM268 522h1.2v1.2h-1.2zM221 609h1.2v1.2h-1.2zM260 522h1.2v1.2h-1.2zM281 601h1.2v1.2h-1.2zM203 551h1.2v1.2h-1.2zM213 601h1.2v1.2h-1.2zM197 611h1.2v1.2h-1.2zM276 560h1.2v1.2h-1.2zM273 521h1.2v1.2h-1.2zM259 504h1.2v1.2h-1.2zM245 573h1.2v1.2h-1.2zM284 529h1.2v1.2h-1.2zM285 604h1.2v1.2h-1.2zM309 477h1.2v1.2h-1.2zM267 504h1.2v1.2h-1.2zM316 571h1.2v1.2h-1.2zM258 575h1.2v1.2h-1.2zM269 510h1.2v1.2h-1.2z" fill="#b01c0c" opacity="0.8"/><text x="189.4" y="488.4" font-size="13.5" fill="#e8e8e8" stroke="#e8e8e8" stroke-width="0.3">C</text><text x="333.5" y="621.4" font-size="13.5" fill="#fff" stroke="#fff" stroke-width="0.3" text-anchor="end">200nm</text><rect x="303.5" y="630.7" width="37.5" height="4.9" fill="#fff"/></svg><svg x="351" y="475.2" width="158" height="165.3" viewBox="351 475.2 158 165.3" overflow="hidden"><rect x="351" y="475.2" width="158" height="165.3" fill="#000"/><g filter="url(#edsN)"><rect x="351" y="475.2" width="158" height="165.3" fill="#000"/><rect x="350" y="475" width="160" height="170" fill="#2a2a2a"/><path d="M468,460C468,462.5 469.3,465 468,475C466.7,485 464.7,505.8 460,520C455.3,534.2 449.2,547.5 440,560C430.8,572.5 418.3,585 405,595C391.7,605 370.8,614.2 360,620C349.2,625.8 343.3,628.3 340,630 L335,660 L520,660 L520,460 Z" fill="#5a5a5a" filter="url(#bl9)"/><path d="M490,460C489.5,462.5 488.5,465 487,475C485.5,485 483.8,505.8 481,520C478.2,534.2 474.8,546.7 470,560C465.2,573.3 459,586.7 452,600C445,613.3 433,630 428,640C423,650 423,656.7 422,660 L520,660 L520,460 Z" fill="#787878" filter="url(#bl6)"/></g><path d="M496 504h1.2v1.2h-1.2zM502 515h1.2v1.2h-1.2zM424 622h1.2v1.2h-1.2zM407 559h1.2v1.2h-1.2zM377 632h1.2v1.2h-1.2zM505 504h1.2v1.2h-1.2zM371 553h1.2v1.2h-1.2zM432 602h1.2v1.2h-1.2zM405 572h1.2v1.2h-1.2zM377 511h1.2v1.2h-1.2zM364 565h1.2v1.2h-1.2zM439 576h1.2v1.2h-1.2zM497 526h1.2v1.2h-1.2zM405 551h1.2v1.2h-1.2zM499 526h1.2v1.2h-1.2zM397 545h1.2v1.2h-1.2zM459 522h1.2v1.2h-1.2zM379 595h1.2v1.2h-1.2zM441 570h1.2v1.2h-1.2zM354 517h1.2v1.2h-1.2zM368 535h1.2v1.2h-1.2zM492 637h1.2v1.2h-1.2zM483 536h1.2v1.2h-1.2zM440 622h1.2v1.2h-1.2zM405 541h1.2v1.2h-1.2zM463 532h1.2v1.2h-1.2zM425 535h1.2v1.2h-1.2zM480 560h1.2v1.2h-1.2zM367 479h1.2v1.2h-1.2zM452 495h1.2v1.2h-1.2zM456 512h1.2v1.2h-1.2zM434 532h1.2v1.2h-1.2zM453 498h1.2v1.2h-1.2zM415 583h1.2v1.2h-1.2zM392 637h1.2v1.2h-1.2zM506 633h1.2v1.2h-1.2zM496 629h1.2v1.2h-1.2zM440 612h1.2v1.2h-1.2zM415 487h1.2v1.2h-1.2zM495 625h1.2v1.2h-1.2zM392 537h1.2v1.2h-1.2zM388 592h1.2v1.2h-1.2zM378 608h1.2v1.2h-1.2zM358 542h1.2v1.2h-1.2zM473 555h1.2v1.2h-1.2zM373 481h1.2v1.2h-1.2zM458 488h1.2v1.2h-1.2zM396 574h1.2v1.2h-1.2zM400 482h1.2v1.2h-1.2zM475 594h1.2v1.2h-1.2zM447 492h1.2v1.2h-1.2zM427 633h1.2v1.2h-1.2zM431 518h1.2v1.2h-1.2zM497 533h1.2v1.2h-1.2zM433 503h1.2v1.2h-1.2zM486 587h1.2v1.2h-1.2zM434 556h1.2v1.2h-1.2zM405 551h1.2v1.2h-1.2zM431 479h1.2v1.2h-1.2zM462 599h1.2v1.2h-1.2zM356 498h1.2v1.2h-1.2zM462 532h1.2v1.2h-1.2zM374 589h1.2v1.2h-1.2zM504 534h1.2v1.2h-1.2zM444 565h1.2v1.2h-1.2zM438 573h1.2v1.2h-1.2zM494 616h1.2v1.2h-1.2zM490 588h1.2v1.2h-1.2zM470 599h1.2v1.2h-1.2zM467 587h1.2v1.2h-1.2zM470 486h1.2v1.2h-1.2zM378 582h1.2v1.2h-1.2zM418 513h1.2v1.2h-1.2zM452 509h1.2v1.2h-1.2zM469 528h1.2v1.2h-1.2zM494 527h1.2v1.2h-1.2zM501 529h1.2v1.2h-1.2zM473 498h1.2v1.2h-1.2zM430 534h1.2v1.2h-1.2zM486 592h1.2v1.2h-1.2z" fill="#3a9a94" opacity="0.8"/><text x="351.9" y="488.4" font-size="13.5" fill="#e8e8e8" stroke="#e8e8e8" stroke-width="0.3">N</text><text x="492.6" y="621.4" font-size="13.5" fill="#fff" stroke="#fff" stroke-width="0.3" text-anchor="end">200nm</text><rect x="466.9" y="630.7" width="38.3" height="4.9" fill="#fff"/></svg><svg x="514.8" y="475.2" width="157.2" height="165.3" viewBox="514.8 475.2 157.2 165.3" overflow="hidden"><rect x="514.8" y="475.2" width="157.2" height="165.3" fill="#000"/><g filter="url(#edsO)"><rect x="514.8" y="475.2" width="157.2" height="165.3" fill="#000"/><rect x="514" y="475" width="160" height="170" fill="#303030"/><path d="M649,464C649,464.8 650.5,462.8 649,469C647.5,475.2 645,490.3 640,501.5C635,512.7 628,524.7 619,536.3C610,547.9 595.2,561.6 586,571C576.8,580.4 571,585.7 564,592.5C557,599.3 549.3,607.1 544,612C538.7,616.9 536.3,621.7 532,622C527.7,622.3 522,614.3 518,614C514,613.7 511.2,618 508,620C504.8,622 500.5,625 499,626 L499,650 L680,650 L680,470 Z" fill="#6a6a6a" filter="url(#bl6)"/><path d="M655,470C655,470.8 656.5,468.8 655,475C653.5,481.2 651,496.3 646,507.5C641,518.7 634,530.7 625,542.3C616,553.9 601.2,567.6 592,577C582.8,586.4 577,591.7 570,598.5C563,605.3 555.3,613.1 550,618C544.7,622.9 542.3,627.7 538,628C533.7,628.3 528,620.3 524,620C520,619.7 517.2,624 514,626C510.8,628 506.5,631 505,632 L505,650 L680,650 L680,470 Z" fill="#a2a2a2" filter="url(#bl3)"/><path d="M650,470 L680,470 L680,650 L634,650 C638,600 639,560 643,520 C646,500 648,485 650,470 Z" fill="#d8d8d8" filter="url(#bl2)"/></g><path d="M584 524h1.2v1.2h-1.2zM656 555h1.2v1.2h-1.2zM529 598h1.2v1.2h-1.2zM527 509h1.2v1.2h-1.2zM527 578h1.2v1.2h-1.2zM646 575h1.2v1.2h-1.2zM550 613h1.2v1.2h-1.2zM650 529h1.2v1.2h-1.2zM558 586h1.2v1.2h-1.2zM666 624h1.2v1.2h-1.2zM651 592h1.2v1.2h-1.2zM551 576h1.2v1.2h-1.2zM582 580h1.2v1.2h-1.2zM591 510h1.2v1.2h-1.2zM654 482h1.2v1.2h-1.2zM568 530h1.2v1.2h-1.2zM665 495h1.2v1.2h-1.2zM605 629h1.2v1.2h-1.2zM610 627h1.2v1.2h-1.2zM577 547h1.2v1.2h-1.2zM573 536h1.2v1.2h-1.2zM569 488h1.2v1.2h-1.2zM668 595h1.2v1.2h-1.2zM620 563h1.2v1.2h-1.2zM547 513h1.2v1.2h-1.2zM665 610h1.2v1.2h-1.2zM586 597h1.2v1.2h-1.2zM664 483h1.2v1.2h-1.2zM572 542h1.2v1.2h-1.2zM568 564h1.2v1.2h-1.2zM561 496h1.2v1.2h-1.2zM650 545h1.2v1.2h-1.2zM639 497h1.2v1.2h-1.2zM563 556h1.2v1.2h-1.2zM521 543h1.2v1.2h-1.2zM543 540h1.2v1.2h-1.2zM561 603h1.2v1.2h-1.2zM594 517h1.2v1.2h-1.2zM607 554h1.2v1.2h-1.2zM550 602h1.2v1.2h-1.2zM605 478h1.2v1.2h-1.2zM599 541h1.2v1.2h-1.2zM529 634h1.2v1.2h-1.2zM611 637h1.2v1.2h-1.2zM589 547h1.2v1.2h-1.2zM540 584h1.2v1.2h-1.2zM590 505h1.2v1.2h-1.2zM645 572h1.2v1.2h-1.2zM529 635h1.2v1.2h-1.2zM580 626h1.2v1.2h-1.2zM579 485h1.2v1.2h-1.2zM600 542h1.2v1.2h-1.2zM636 557h1.2v1.2h-1.2zM573 543h1.2v1.2h-1.2zM590 595h1.2v1.2h-1.2zM639 541h1.2v1.2h-1.2zM538 478h1.2v1.2h-1.2zM608 514h1.2v1.2h-1.2zM647 545h1.2v1.2h-1.2zM664 489h1.2v1.2h-1.2zM645 495h1.2v1.2h-1.2zM553 543h1.2v1.2h-1.2zM559 549h1.2v1.2h-1.2zM594 576h1.2v1.2h-1.2zM520 575h1.2v1.2h-1.2zM575 577h1.2v1.2h-1.2zM562 609h1.2v1.2h-1.2zM549 490h1.2v1.2h-1.2zM627 579h1.2v1.2h-1.2zM544 531h1.2v1.2h-1.2zM580 509h1.2v1.2h-1.2zM602 545h1.2v1.2h-1.2zM605 601h1.2v1.2h-1.2zM544 520h1.2v1.2h-1.2zM618 573h1.2v1.2h-1.2zM627 521h1.2v1.2h-1.2zM549 484h1.2v1.2h-1.2zM563 518h1.2v1.2h-1.2zM630 532h1.2v1.2h-1.2zM636 495h1.2v1.2h-1.2zM560 546h1.2v1.2h-1.2zM552 554h1.2v1.2h-1.2zM666 550h1.2v1.2h-1.2zM547 573h1.2v1.2h-1.2zM597 611h1.2v1.2h-1.2zM528 595h1.2v1.2h-1.2zM608 524h1.2v1.2h-1.2zM573 491h1.2v1.2h-1.2zM659 524h1.2v1.2h-1.2zM581 581h1.2v1.2h-1.2z" fill="#2e6410" opacity="0.8"/><text x="515.7" y="488.4" font-size="13.5" fill="#e8e8e8" stroke="#e8e8e8" stroke-width="0.3">O</text><text x="658.8" y="621.4" font-size="13.5" fill="#fff" stroke="#fff" stroke-width="0.3" text-anchor="end">200nm</text><rect x="631.2" y="630.7" width="36.9" height="4.9" fill="#fff"/></svg><polygon points="569,43.8 612,57 610.7,119.9 573.9,97" fill="url(#c1L)"/><polygon points="612,57 654.9,43.3 650.8,95.3 610.7,119.9" fill="url(#c1R)"/><polygon points="593,52 628,50 616,119 606,119" fill="#3b86a6" opacity="0.7" filter="url(#bl2)"/><ellipse cx="608" cy="72" rx="9" ry="14" fill="#4a70b8" opacity="0.55" filter="url(#bl2)"/><polygon points="569,43.8 611.5,34.3 654.9,43.3 612,57" fill="#4288b6"/><ellipse cx="604" cy="55" rx="12" ry="5.5" fill="#72309a" opacity="0.85" filter="url(#bl2)"/><ellipse cx="598" cy="41" rx="8" ry="3" fill="#5a4aa8" opacity="0.7" filter="url(#bl1)"/><rect x="565" y="30" width="95" height="95" filter="url(#spk)" opacity="0.28" clip-path="url(#c1clip)"/><line x1="569" y1="43.8" x2="611.5" y2="34.3" stroke="#9ab" stroke-width="0.4" opacity="0.6"/><line x1="611.5" y1="34.3" x2="654.9" y2="43.3" stroke="#9ab" stroke-width="0.4" opacity="0.6"/><line x1="569" y1="43.8" x2="612" y2="57" stroke="#9ab" stroke-width="0.4" opacity="0.6"/><line x1="612" y1="57" x2="654.9" y2="43.3" stroke="#9ab" stroke-width="0.4" opacity="0.6"/><line x1="612" y1="57" x2="610.7" y2="119.9" stroke="#9ab" stroke-width="0.4" opacity="0.6"/><line x1="569" y1="43.8" x2="573.9" y2="97" stroke="#9ab" stroke-width="0.4" opacity="0.6"/><line x1="573.9" y1="97" x2="610.7" y2="119.9" stroke="#9ab" stroke-width="0.4" opacity="0.6"/><line x1="610.7" y1="119.9" x2="650.8" y2="95.3" stroke="#9ab" stroke-width="0.4" opacity="0.6"/><line x1="654.9" y1="43.3" x2="650.8" y2="95.3" stroke="#9ab" stroke-width="0.4" opacity="0.6"/><polygon points="571.2,175.6 613.3,188.8 612.5,250.3 575.9,227.8" fill="#4a90bc"/><polygon points="613.3,188.8 653,176.4 649.1,228.5 612.5,250.3" fill="#4c8abd"/><polygon points="571.2,175.6 612.5,167 653,176.4 613.3,188.8" fill="url(#c2T)"/><rect x="565" y="160" width="95" height="95" filter="url(#spk)" opacity="0.35" clip-path="url(#c2clip)"/><polygon points="571.2,175.6 612.5,167 653,176.4 649.1,228.5 612.5,250.3 575.9,227.8" fill="none" stroke="#a8d4e0" stroke-width="1" opacity="0.6"/><text x="592" y="137.3" font-size="15" fill="#111">C<tspan font-size="10.5" dy="3.5">2</tspan><tspan dy="-3.5">HO</tspan><tspan font-size="10" dy="-6">-</tspan></text><text x="597.5" y="269.8" font-size="15" fill="#111">LiO<tspan font-size="10" dy="-6">-</tspan></text><rect x="668.9" y="38.2" width="15.2" height="222.3" fill="url(#cbar)"/><line x1="665.3" y1="40" x2="665.3" y2="260" stroke="#9aa8e8" stroke-width="0.8"/><path d="M663.6,43 L665.3,38.5 L667,43" fill="none" stroke="#9aa8e8" stroke-width="0.7"/><text x="668.5" y="31.6" font-size="7.5" fill="#222" text-anchor="middle" transform="scale(0.8,1) translate(167.1,0)">max</text><text x="668" y="274" font-size="7.5" fill="#222" text-anchor="middle" transform="scale(0.8,1) translate(167,0)">min</text><line x1="656" y1="110" x2="653" y2="112" stroke="#3c3" stroke-width="0.7"/><line x1="656" y1="110" x2="659" y2="109" stroke="#e55" stroke-width="0.7"/><line x1="656" y1="110" x2="656" y2="114" stroke="#33c" stroke-width="0.7"/><line x1="656" y1="241" x2="653" y2="243" stroke="#3c3" stroke-width="0.7"/><line x1="656" y1="241" x2="659" y2="240" stroke="#e55" stroke-width="0.7"/><line x1="656" y1="241" x2="656" y2="245" stroke="#33c" stroke-width="0.7"/>
</svg>
</body></html>
